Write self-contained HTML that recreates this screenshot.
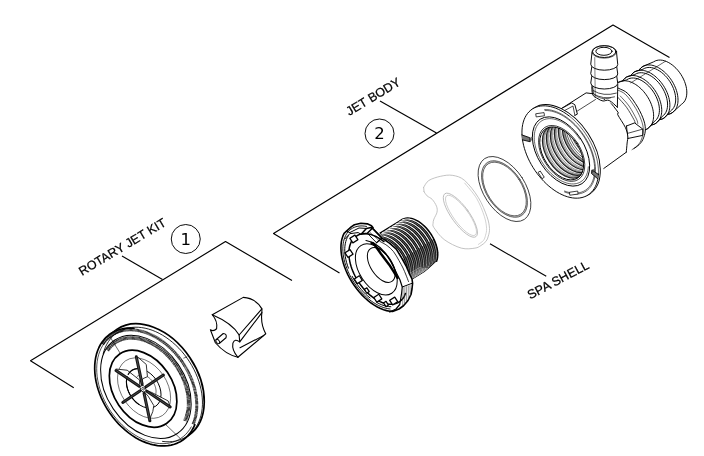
<!DOCTYPE html>
<html><head><meta charset="utf-8"><title>Jet exploded view</title>
<style>
html,body{margin:0;padding:0;background:#fff;}
svg{display:block;filter:grayscale(1)}
text{font-family:"Liberation Sans",sans-serif;fill:#000;stroke:#000;stroke-width:0.25;opacity:0.995}
.ln{stroke:#000;stroke-width:1.15;fill:none;stroke-linecap:butt}
</style></head><body>
<svg width="704" height="456" viewBox="0 0 704 456" stroke-linecap="round" stroke-linejoin="round">
<rect width="704" height="456" fill="#fff"/>
<g class="ln">
<polyline points="73.75,387.75 30.5,360.75 225.5,241.5 292,280.5"/>
<line x1="122" y1="256" x2="162.5" y2="279.5"/>
<polyline points="339.5,273 273.5,233.5 613,25 669.5,57.5"/>
<line x1="380" y1="101" x2="436.5" y2="133"/>
<line x1="490" y1="243.75" x2="546.25" y2="276.25"/>
<circle cx="185.75" cy="239" r="14.5" stroke-width="0.95"/>
<circle cx="379.5" cy="133.5" r="14.5" stroke-width="0.95"/>
</g>
<text transform="translate(82,276) rotate(-31)" font-size="12.5">ROTARY JET KIT</text>
<text transform="translate(349.3,115.9) rotate(-31)" font-size="12.5">JET BODY</text>
<text transform="translate(530.3,299.6) rotate(-28)" font-size="12.7">SPA SHELL</text>
<text x="185.75" y="244.6" font-size="16.5" text-anchor="middle" style="font-family:'DejaVu Sans',sans-serif;stroke:none">1</text>
<text x="379.5" y="138.8" font-size="16.5" text-anchor="middle" style="font-family:'DejaVu Sans',sans-serif;stroke:none">2</text>
<g id="wheel">
<ellipse cx="152.60" cy="382.50" rx="44.87" ry="64.10" transform="rotate(-34 152.60 382.50)" stroke="#000" stroke-width="1.7" fill="#fff" />
<ellipse cx="146.50" cy="387.00" rx="45.01" ry="64.30" transform="rotate(-34 146.50 387.00)" stroke="none" stroke-width="0" fill="#fff" />
<path d="M134.02,328.25 L130.50,328.05 L127.05,328.15 L123.71,328.54 L120.48,329.23 L117.38,330.20 L114.42,331.46 L111.63,333.00 L109.00,334.80 L106.57,336.87 L104.34,339.18 L102.31,341.74 L100.51,344.52 L98.94,347.51 L97.60,350.71 L96.51,354.08 L95.67,357.62 L95.09,361.30 L94.76,365.11 L94.69,369.04 L94.88,373.05 L95.32,377.13 L96.02,381.26 L96.98,385.42 L98.18,389.59 L99.62,393.74 L101.30,397.86 L103.21,401.93 L105.33,405.92 L107.65,409.82 L110.17,413.60 L112.87,417.25 L115.74,420.75 L118.77,424.08 L121.93,427.23 L125.22,430.17 L128.61,432.90 L132.09,435.40 L135.64,437.66 L139.25,439.66 L142.89,441.40 L146.55,442.87 L150.21,444.06 L153.86,444.96 L157.46,445.58 L161.01,445.90 L164.49,445.93 L167.88,445.66 L171.16,445.10 L174.32,444.25 L177.34,443.11 L180.21,441.69 L182.90,440.00 L185.42,438.04 L187.74,435.83 L189.85,433.38 L191.75,430.69 L193.42,427.79 L194.86,424.68" stroke="#000" stroke-width="1.7" fill="none"/>
<path d="M162.52,441.41 L165.93,441.74 L169.28,441.79 L172.54,441.56 L175.70,441.05 L178.74,440.27 L181.66,439.22 L184.43,437.90 L187.05,436.31 L189.49,434.48 L191.76,432.41 L193.83,430.10 L195.69,427.56 L197.35,424.82 L198.78,421.88 L199.99,418.76 L200.96,415.48 L201.69,412.04 L202.19,408.47 L202.44,404.78 L202.44,400.99 L202.20,397.12 L201.71,393.19 L200.99,389.22 L200.02,385.23 L198.82,381.23 L197.40,377.24 L195.75,373.30 L193.89,369.40 L191.82,365.59 L189.57,361.86 L187.13,358.24 L184.52,354.75 L181.75,351.41 L178.84,348.23 L175.80,345.22 L172.64,342.41 L169.38,339.80 L166.04,337.41 L162.63,335.24 L159.16,333.32 L155.67,331.65 L152.15,330.23 L148.64,329.08 L145.14,328.20 L141.68,327.59 L138.27,327.26 L134.92,327.21 L131.66,327.44 L128.50,327.95 L125.46,328.73 L122.54,329.78 L119.77,331.10 L117.15,332.69 L114.71,334.52 L112.44,336.59 L110.37,338.90 L108.51,341.44 L106.85,344.18 L105.42,347.12 L104.21,350.24 L103.24,353.52" stroke="#000" stroke-width="0.85" fill="none"/>
<path d="M122.40,331.25 L119.38,332.10 L116.49,333.23 L113.75,334.63 L111.18,336.29 L108.79,338.21 L106.58,340.37 L104.57,342.76 L102.78,345.38 L101.20,348.20 L99.85,351.22 L98.73,354.42 L97.85,357.78 L97.22,361.29 L96.83,364.92 L96.70,368.67 L96.81,372.51 L97.17,376.42 L97.78,380.38 L98.63,384.38 L99.72,388.39 L101.05,392.39 L102.60,396.37 L104.37,400.30 L106.36,404.16 L108.55,407.94 L110.92,411.61 L113.48,415.16 L116.20,418.57 L119.07,421.82 L122.08,424.89 L125.21,427.78 L128.45,430.46 L131.78,432.92 L135.18,435.15 L138.64,437.14 L142.14,438.88 L145.66,440.37 L149.18,441.58 L152.69,442.52 L156.18,443.18 L159.61,443.56 L162.97,443.65 L166.26,443.47 L169.44,443.00 L172.51,442.25 L175.45,441.22 L178.25,439.92 L180.88,438.35 L183.34,436.53 L185.62,434.46 L187.70,432.15 L189.58,429.62 L191.24,426.87" stroke="#000" stroke-width="0.7" fill="none"/>
<ellipse cx="145.89" cy="386.87" rx="39.34" ry="56.20" transform="rotate(-34 145.89 386.87)" stroke="#000" stroke-width="1.0" fill="none" />
<path d="M193.11,424.32 L194.32,421.19 L195.29,417.89 L196.03,414.43 L196.52,410.84 L196.76,407.14 L196.76,403.33 L196.50,399.44 L196.01,395.49 L195.26,391.50 L194.28,387.49 L193.06,383.48 L191.62,379.48 L189.95,375.52 L188.06,371.62 L185.97,367.79 L183.69,364.05 L181.22,360.43 L178.58,356.94 L175.79,353.60 L172.85,350.43 L169.78,347.43 L166.59,344.63 L163.31,342.04 L159.94,339.67 L156.51,337.53 L153.03,335.63 L149.51,333.99 L145.98,332.61 L142.46,331.50 L138.95,330.67 L135.48,330.11 L132.06,329.83 L128.72,329.83 L125.46,330.11 L122.31,330.68 L119.28,331.52 L116.38,332.63 L113.63,334.02 L111.04,335.66 L108.62,337.56 L106.40,339.70 L104.37,342.07 L102.54,344.67" stroke="#000" stroke-width="3.0" fill="none" stroke-dasharray="0.75 0.4" stroke-linecap="butt"/>
<path d="M184.89,420.85 L186.04,418.19 L186.99,415.37 L187.73,412.41 L188.26,409.33 L188.57,406.13 L188.66,402.84 L188.53,399.47 L188.18,396.04 L187.62,392.57 L186.84,389.07 L185.85,385.56 L184.66,382.06 L183.27,378.58 L181.69,375.15 L179.92,371.79 L177.98,368.49 L175.87,365.30 L173.61,362.22 L171.20,359.26 L168.67,356.44 L166.01,353.78 L163.25,351.29 L160.40,348.98 L157.48,346.86 L154.49,344.95 L151.45,343.25 L148.39,341.78 L145.30,340.53 L142.22,339.52 L139.15,338.75 L136.12,338.23 L133.13,337.95 L130.19,337.92 L127.34,338.14 L124.58,338.61 L121.92,339.33 L119.37,340.28 L116.96,341.48 L114.69,342.90 L112.57,344.55 L110.62,346.42 L108.85,348.49 L107.25,350.75" stroke="#000" stroke-width="3.6" fill="none" stroke-dasharray="0.75 0.4" stroke-linecap="butt"/>
<ellipse cx="143.10" cy="388.75" rx="29.33" ry="41.90" transform="rotate(-34 143.10 388.75)" stroke="#000" stroke-width="1.7" fill="none" />
<line x1="110.00" y1="336.75" x2="120.00" y2="353.00" stroke="#000" stroke-width="0.6"/>
<line x1="166.25" y1="425.10" x2="180.00" y2="438.25" stroke="#000" stroke-width="0.6"/>
<line x1="183.75" y1="358.10" x2="186.90" y2="356.90" stroke="#000" stroke-width="0.6"/>
<ellipse cx="144.09" cy="388.08" rx="23.10" ry="33.00" transform="rotate(-34 144.09 388.08)" stroke="#000" stroke-width="0.5" fill="none" />
</g>
<g id="hub">
<ellipse cx="143.76" cy="388.30" rx="15.05" ry="21.50" transform="rotate(-34 143.76 388.30)" stroke="#000" stroke-width="0.9" fill="none" />
<path d="M154.95,396.06 L155.26,395.43 L155.52,394.75 L155.73,394.04 L155.88,393.30 L155.99,392.53 L156.05,391.73 L156.05,390.91 L155.99,390.08 L155.89,389.23 L155.73,388.37 L155.52,387.51 L155.26,386.65 L154.96,385.78 L154.60,384.93 L154.20,384.09 L153.75,383.27 L153.27,382.46 L152.74,381.68 L152.17,380.93 L151.58,380.20 L150.95,379.52 L150.29,378.87 L149.61,378.26 L148.90,377.70 L148.18,377.18 L147.45,376.71 L146.70,376.30 L145.94,375.94 L145.18,375.63 L144.43,375.38 L143.67,375.19 L142.92,375.06 L142.19,374.99 L141.46,374.98 L140.76,375.03 L140.08,375.14 L139.42,375.31 L138.79,375.53 L138.19,375.82 L137.62,376.16 L137.10,376.56 L136.61,377.00 L136.16,377.50 L135.76,378.05 L135.40,378.64" stroke="#000" stroke-width="0.6" fill="none"/>
<path d="M138.24,357.52 L146.25,364.43 L147.45,376.68 L142.85,378.70 L141.47,382.39" stroke="#000" stroke-width="0.8" fill="#fff" />
<path d="M116.14,369.03 L127.19,370.23 L139.62,380.08 L139.62,384.23" stroke="#000" stroke-width="0.8" fill="#fff" />
<path d="M149.03,420.94 L152.79,411.54 L153.81,405.56 L148.17,396.15 L144.24,391.88" stroke="#000" stroke-width="0.8" fill="#fff" />
<path d="M170.39,407.26 L168.17,400.94 L151.59,392.39 L146.46,391.03" stroke="#000" stroke-width="0.8" fill="#fff" />
<path d="M137.29,368.62 L136.13,368.76 L135.01,369.00 L133.94,369.34 L132.92,369.79 L131.96,370.33 L131.06,370.98 L130.23,371.71 L129.48,372.53 L128.80,373.44 L128.20,374.43" stroke="#000" stroke-width="1.2" fill="none"/>
<path d="M126.76,378.53 L126.57,379.76 L126.46,381.04 L126.44,382.35 L126.51,383.69 L126.66,385.05 L126.90,386.43 L127.22,387.82 L127.62,389.22 L128.11,390.60 L128.67,391.98 L129.31,393.34 L130.02,394.67 L130.80,395.97 L131.64,397.23 L132.55,398.45 L133.51,399.62 L134.52,400.73 L135.57,401.78 L136.67,402.76 L137.81,403.67 L138.97,404.50" stroke="#000" stroke-width="1.1" fill="none"/>
<line x1="142.13" y1="384.18" x2="136.31" y2="356.77" stroke="#151515" stroke-width="3.0"/>
<line x1="141.94" y1="383.27" x2="136.50" y2="357.68" stroke="#5a5a5a" stroke-width="0.7"/>
<line x1="139.23" y1="386.14" x2="115.99" y2="370.47" stroke="#151515" stroke-width="3.0"/>
<line x1="138.45" y1="385.62" x2="116.77" y2="370.99" stroke="#5a5a5a" stroke-width="0.7"/>
<line x1="146.00" y1="386.79" x2="163.41" y2="375.05" stroke="#151515" stroke-width="3.0"/>
<line x1="146.58" y1="386.40" x2="162.83" y2="375.44" stroke="#5a5a5a" stroke-width="0.7"/>
<line x1="140.20" y1="390.71" x2="122.79" y2="402.45" stroke="#151515" stroke-width="3.0"/>
<line x1="139.62" y1="391.10" x2="123.37" y2="402.06" stroke="#5a5a5a" stroke-width="0.7"/>
<line x1="146.97" y1="391.36" x2="170.21" y2="407.03" stroke="#151515" stroke-width="3.0"/>
<line x1="147.75" y1="391.88" x2="169.43" y2="406.51" stroke="#5a5a5a" stroke-width="0.7"/>
<line x1="144.07" y1="393.32" x2="149.89" y2="420.73" stroke="#151515" stroke-width="3.0"/>
<line x1="144.26" y1="394.23" x2="149.70" y2="419.82" stroke="#5a5a5a" stroke-width="0.7"/>
<ellipse cx="143.10" cy="388.75" rx="2.52" ry="3.60" transform="rotate(-34 143.10 388.75)" stroke="#000" stroke-width="0.8" fill="#fff" />
<ellipse cx="143.10" cy="388.75" rx="1.05" ry="1.50" transform="rotate(-34 143.10 388.75)" stroke="#000" stroke-width="0.6" fill="#fff" />
</g>
<g id="nozzle" fill="none" stroke="#000" stroke-width="1.1">
<path d="M212.25,314.75 L243.25,297.38 Q256.00,298.25 261.88,308.88 L239.12,335.00 Q232.25,323.25 212.25,314.75 Z" fill="#fff"/>
<path d="M261.88,312.62 L239.75,341.88 L239.12,335.00"/>
<path d="M261.88,308.88 L261.88,312.62 Q260.38,323.75 265.75,333.75 L237.88,357.25"/>
<path d="M263.50,335.62 L240.00,347.75"/>
<path d="M239.75,341.88 Q234.75,338.12 232.88,343.12 Q231.62,350.00 237.88,357.25"/>
<path d="M237.88,357.25 Q225.38,354.38 215.38,342.75 L210.38,329.75 Q213.50,331.88 216.62,328.75 Q217.88,321.25 212.25,314.75"/>
<path d="M216.00,339.75 L223.25,333.50 Q227.25,333.75 226.00,337.75 L219.50,343.25" stroke-width="1.05"/>
<ellipse cx="217.75" cy="341.50" rx="1.5" ry="2.4" transform="rotate(-40 217.75 341.50)" stroke-width="0.95"/>
</g>
<g id="front">
<clipPath id="cthr"><path d="M380.00,232.90 L398.75,221.60 L402.50,219.10 L402.54,219.32 L404.13,218.59 L405.85,218.14 L407.71,217.96 L409.67,218.05 L411.71,218.42 L413.81,219.06 L415.95,219.96 L418.11,221.11 L420.26,222.51 L422.37,224.13 L424.43,225.96 L426.41,227.98 L428.30,230.16 L430.06,232.49 L431.68,234.93 L433.14,237.46 L434.43,240.05 L435.54,242.68 L436.44,245.31 L437.13,247.91 L437.61,250.47 L437.86,252.94 L437.89,255.31 L437.69,257.54 L437.27,259.61 L436.63,261.50 L437.90,252.00 L437.80,255.90 L436.20,260.70 L427.80,268.60 L423.80,271.80 L411.25,279.40 L406.90,275.00 L401.25,262.50 L395.00,252.50 L392.50,248.50 L386.25,239.75 Z"/></clipPath>
<path d="M380.00,232.90 L398.75,221.60 L402.50,219.10 L402.54,219.32 L404.13,218.59 L405.85,218.14 L407.71,217.96 L409.67,218.05 L411.71,218.42 L413.81,219.06 L415.95,219.96 L418.11,221.11 L420.26,222.51 L422.37,224.13 L424.43,225.96 L426.41,227.98 L428.30,230.16 L430.06,232.49 L431.68,234.93 L433.14,237.46 L434.43,240.05 L435.54,242.68 L436.44,245.31 L437.13,247.91 L437.61,250.47 L437.86,252.94 L437.89,255.31 L437.69,257.54 L437.27,259.61 L436.63,261.50 L437.90,252.00 L437.80,255.90 L436.20,260.70 L427.80,268.60 L423.80,271.80 L411.25,279.40 L406.90,275.00 L401.25,262.50 L395.00,252.50 L392.50,248.50 L386.25,239.75 Z" fill="#0a0a0a" stroke="#000" stroke-width="1.2"/>
<g clip-path="url(#cthr)">
<path d="M432.33,239.08 L431.42,237.38 L430.43,235.72 L429.38,234.10 L428.26,232.53 L427.09,231.01 L425.86,229.55 L424.58,228.16 L423.27,226.85 L421.92,225.62 L420.54,224.48 L419.14,223.44 L417.72,222.49 L416.30,221.65 L414.88,220.91 L413.46,220.29 L412.06,219.78 L410.68,219.39 L409.32,219.12 L408.00,218.96 L406.72,218.93 L405.49,219.02 L404.30,219.23 L403.18,219.56 L402.12,220.01" stroke="#fff" stroke-width="1.05" fill="none"/>
<path d="M435.07,262.59 L435.57,261.41 L435.97,260.14 L436.27,258.79 L436.47,257.37 L436.58,255.88 L436.58,254.34 L436.49,252.74 L436.30,251.10 L436.01,249.42 L435.62,247.72 L435.14,245.99 L434.57,244.26 L433.91,242.52 L433.16,240.79 L432.33,239.08" stroke="#f0f0f0" stroke-width="0.6" fill="none"/>
<path d="M418.96,267.33 L420.36,267.83 L421.74,268.23 L423.10,268.50 L424.42,268.65 L425.70,268.68 L426.93,268.59 L428.12,268.38 L429.24,268.05 L430.30,267.60 L431.30,267.04 L432.22,266.36 L433.06,265.57 L433.82,264.68 L434.49,263.69 L435.07,262.59" stroke="#ddd" stroke-width="0.4" fill="none"/>
<path d="M417.32,268.39 L418.72,268.90 L420.11,269.29 L421.46,269.56 L422.78,269.71 L424.06,269.74 L425.30,269.65 L426.48,269.44 L427.61,269.11 L428.67,268.67 L429.66,268.10 L430.58,267.42 L431.42,266.64 L432.18,265.74 L432.85,264.75 L433.44,263.66 L433.93,262.47 L434.33,261.20 L434.63,259.85 L434.84,258.43 L434.94,256.94 L434.95,255.40 L434.85,253.80 L434.66,252.16 L434.37,250.48 L433.99,248.78 L433.51,247.05 L432.93,245.32 L432.27,243.58 L431.52,241.85 L430.69,240.14 L429.78,238.45 L428.80,236.79 L427.75,235.16 L426.63,233.59 L425.45,232.07 L424.22,230.61 L422.95,229.23 L421.63,227.91 L420.28,226.69 L418.90,225.55 L417.50,224.50 L416.09,223.55 L414.67,222.71 L413.24,221.98 L411.83,221.35 L410.43,220.84 L409.04,220.45 L407.69,220.18 L406.37,220.03 L405.09,220.00 L403.85,220.09 L402.67,220.30 L401.54,220.63 L400.48,221.07" stroke="#e8e8e8" stroke-width="0.42" fill="none"/>
<path d="M429.06,241.20 L428.15,239.51 L427.16,237.85 L426.11,236.23 L424.99,234.65 L423.82,233.13 L422.59,231.68 L421.31,230.29 L420.00,228.98 L418.64,227.75 L417.27,226.61 L415.87,225.56 L414.45,224.62 L413.03,223.77 L411.61,223.04 L410.19,222.41 L408.79,221.91 L407.41,221.51 L406.05,221.24 L404.73,221.09 L403.45,221.06 L402.21,221.15 L401.03,221.36 L399.91,221.69 L398.85,222.14" stroke="#fff" stroke-width="1.05" fill="none"/>
<path d="M431.80,264.72 L432.30,263.53 L432.69,262.27 L433.00,260.92 L433.20,259.49 L433.31,258.01 L433.31,256.46 L433.22,254.86 L433.03,253.22 L432.74,251.54 L432.35,249.84 L431.87,248.12 L431.30,246.38 L430.64,244.65 L429.89,242.92 L429.06,241.20" stroke="#f0f0f0" stroke-width="0.6" fill="none"/>
<path d="M415.69,269.45 L417.09,269.96 L418.47,270.35 L419.82,270.62 L421.15,270.78 L422.43,270.81 L423.66,270.72 L424.85,270.51 L425.97,270.18 L427.03,269.73 L428.03,269.16 L428.94,268.49 L429.79,267.70 L430.55,266.81 L431.22,265.81 L431.80,264.72" stroke="#ddd" stroke-width="0.4" fill="none"/>
<path d="M414.05,270.51 L415.45,271.02 L416.83,271.41 L418.19,271.68 L419.51,271.84 L420.79,271.87 L422.03,271.78 L423.21,271.57 L424.34,271.24 L425.40,270.79 L426.39,270.23 L427.31,269.55 L428.15,268.76 L428.91,267.87 L429.58,266.87 L430.17,265.78 L430.66,264.60 L431.06,263.33 L431.36,261.98 L431.57,260.56 L431.67,259.07 L431.68,257.52 L431.58,255.92 L431.39,254.28 L431.10,252.61 L430.72,250.90 L430.24,249.18 L429.66,247.44 L429.00,245.71 L428.25,243.98 L427.42,242.26 L426.51,240.57 L425.53,238.91 L424.48,237.29 L423.36,235.71 L422.18,234.19 L420.95,232.74 L419.68,231.35 L418.36,230.04 L417.01,228.81 L415.63,227.67 L414.23,226.62 L412.82,225.68 L411.39,224.83 L409.97,224.10 L408.56,223.48 L407.15,222.97 L405.77,222.58 L404.42,222.30 L403.10,222.15 L401.81,222.12 L400.58,222.21 L399.40,222.42 L398.27,222.75 L397.21,223.20" stroke="#e8e8e8" stroke-width="0.42" fill="none"/>
<path d="M425.79,243.32 L424.88,241.63 L423.89,239.97 L422.84,238.35 L421.72,236.78 L420.55,235.26 L419.32,233.80 L418.04,232.41 L416.72,231.10 L415.37,229.87 L413.99,228.73 L412.59,227.69 L411.18,226.74 L409.76,225.90 L408.34,225.16 L406.92,224.54 L405.52,224.03 L404.14,223.64 L402.78,223.37 L401.46,223.21 L400.18,223.18 L398.94,223.27 L397.76,223.48 L396.64,223.81 L395.57,224.26" stroke="#fff" stroke-width="1.05" fill="none"/>
<path d="M428.53,266.84 L429.03,265.66 L429.42,264.39 L429.73,263.04 L429.93,261.62 L430.04,260.13 L430.04,258.58 L429.95,256.99 L429.76,255.34 L429.47,253.67 L429.08,251.96 L428.60,250.24 L428.03,248.51 L427.37,246.77 L426.62,245.04 L425.79,243.32" stroke="#f0f0f0" stroke-width="0.6" fill="none"/>
<path d="M412.41,271.57 L413.82,272.08 L415.20,272.47 L416.55,272.75 L417.88,272.90 L419.16,272.93 L420.39,272.84 L421.58,272.63 L422.70,272.30 L423.76,271.85 L424.75,271.29 L425.67,270.61 L426.52,269.82 L427.27,268.93 L427.95,267.93 L428.53,266.84" stroke="#ddd" stroke-width="0.4" fill="none"/>
<path d="M410.78,272.64 L412.18,273.14 L413.56,273.54 L414.92,273.81 L416.24,273.96 L417.52,273.99 L418.76,273.90 L419.94,273.69 L421.06,273.36 L422.13,272.91 L423.12,272.35 L424.04,271.67 L424.88,270.88 L425.64,269.99 L426.31,269.00 L426.90,267.90 L427.39,266.72 L427.79,265.45 L428.09,264.10 L428.29,262.68 L428.40,261.19 L428.41,259.65 L428.31,258.05 L428.12,256.41 L427.83,254.73 L427.45,253.03 L426.97,251.30 L426.39,249.57 L425.73,247.83 L424.98,246.10 L424.15,244.39 L423.24,242.69 L422.26,241.03 L421.20,239.41 L420.09,237.84 L418.91,236.32 L417.68,234.86 L416.41,233.47 L415.09,232.16 L413.74,230.93 L412.36,229.79 L410.96,228.75 L409.55,227.80 L408.12,226.96 L406.70,226.22 L405.29,225.60 L403.88,225.09 L402.50,224.70 L401.15,224.43 L399.83,224.28 L398.54,224.24 L397.31,224.33 L396.13,224.54 L395.00,224.87 L393.94,225.32" stroke="#e8e8e8" stroke-width="0.42" fill="none"/>
<path d="M422.52,245.45 L421.61,243.76 L420.62,242.10 L419.57,240.47 L418.45,238.90 L417.28,237.38 L416.05,235.92 L414.77,234.54 L413.45,233.22 L412.10,232.00 L410.72,230.86 L409.32,229.81 L407.91,228.86 L406.49,228.02 L405.07,227.29 L403.65,226.66 L402.25,226.15 L400.87,225.76 L399.51,225.49 L398.19,225.34 L396.91,225.31 L395.67,225.40 L394.49,225.61 L393.37,225.94 L392.30,226.38" stroke="#fff" stroke-width="1.05" fill="none"/>
<path d="M425.26,268.97 L425.75,267.78 L426.15,266.51 L426.45,265.16 L426.66,263.74 L426.76,262.25 L426.77,260.71 L426.68,259.11 L426.49,257.47 L426.20,255.79 L425.81,254.09 L425.33,252.36 L424.76,250.63 L424.09,248.89 L423.35,247.16 L422.52,245.45" stroke="#f0f0f0" stroke-width="0.6" fill="none"/>
<path d="M409.14,273.70 L410.55,274.21 L411.93,274.60 L413.28,274.87 L414.60,275.02 L415.89,275.05 L417.12,274.97 L418.30,274.75 L419.43,274.42 L420.49,273.98 L421.48,273.41 L422.40,272.73 L423.24,271.95 L424.00,271.05 L424.68,270.06 L425.26,268.97" stroke="#ddd" stroke-width="0.4" fill="none"/>
<path d="M407.51,274.76 L408.91,275.27 L410.29,275.66 L411.65,275.93 L412.97,276.09 L414.25,276.12 L415.49,276.03 L416.67,275.82 L417.79,275.49 L418.86,275.04 L419.85,274.47 L420.77,273.80 L421.61,273.01 L422.37,272.12 L423.04,271.12 L423.63,270.03 L424.12,268.84 L424.52,267.58 L424.82,266.23 L425.02,264.80 L425.13,263.32 L425.14,261.77 L425.04,260.17 L424.85,258.53 L424.56,256.85 L424.18,255.15 L423.69,253.43 L423.12,251.69 L422.46,249.96 L421.71,248.23 L420.88,246.51 L419.97,244.82 L418.99,243.16 L417.93,241.54 L416.82,239.96 L415.64,238.44 L414.41,236.99 L413.14,235.60 L411.82,234.29 L410.47,233.06 L409.09,231.92 L407.69,230.87 L406.27,229.93 L404.85,229.08 L403.43,228.35 L402.02,227.72 L400.61,227.22 L399.23,226.82 L397.88,226.55 L396.55,226.40 L395.27,226.37 L394.04,226.46 L392.85,226.67 L391.73,227.00 L390.67,227.45" stroke="#e8e8e8" stroke-width="0.42" fill="none"/>
<path d="M419.24,247.57 L418.33,245.88 L417.35,244.22 L416.30,242.60 L415.18,241.02 L414.00,239.50 L412.78,238.05 L411.50,236.66 L410.18,235.35 L408.83,234.12 L407.45,232.98 L406.05,231.93 L404.64,230.99 L403.22,230.14 L401.80,229.41 L400.38,228.79 L398.98,228.28 L397.60,227.89 L396.24,227.61 L394.92,227.46 L393.64,227.43 L392.40,227.52 L391.22,227.73 L390.09,228.06 L389.03,228.51" stroke="#fff" stroke-width="1.05" fill="none"/>
<path d="M421.99,271.09 L422.48,269.91 L422.88,268.64 L423.18,267.29 L423.39,265.87 L423.49,264.38 L423.50,262.83 L423.41,261.23 L423.22,259.59 L422.93,257.92 L422.54,256.21 L422.06,254.49 L421.49,252.75 L420.82,251.02 L420.08,249.29 L419.24,247.57" stroke="#f0f0f0" stroke-width="0.6" fill="none"/>
<path d="M405.87,275.82 L407.28,276.33 L408.66,276.72 L410.01,277.00 L411.33,277.15 L412.62,277.18 L413.85,277.09 L415.03,276.88 L416.16,276.55 L417.22,276.10 L418.21,275.54 L419.13,274.86 L419.97,274.07 L420.73,273.18 L421.41,272.18 L421.99,271.09" stroke="#ddd" stroke-width="0.4" fill="none"/>
<path d="M404.24,276.88 L405.64,277.39 L407.02,277.78 L408.38,278.06 L409.70,278.21 L410.98,278.24 L412.22,278.15 L413.40,277.94 L414.52,277.61 L415.58,277.16 L416.58,276.60 L417.50,275.92 L418.34,275.13 L419.10,274.24 L419.77,273.24 L420.36,272.15 L420.85,270.97 L421.25,269.70 L421.55,268.35 L421.75,266.93 L421.86,265.44 L421.86,263.89 L421.77,262.30 L421.58,260.65 L421.29,258.98 L420.90,257.27 L420.42,255.55 L419.85,253.82 L419.19,252.08 L418.44,250.35 L417.61,248.63 L416.70,246.94 L415.72,245.28 L414.66,243.66 L413.55,242.09 L412.37,240.57 L411.14,239.11 L409.86,237.72 L408.55,236.41 L407.20,235.18 L405.82,234.04 L404.42,233.00 L403.00,232.05 L401.58,231.21 L400.16,230.47 L398.74,229.85 L397.34,229.34 L395.96,228.95 L394.61,228.68 L393.28,228.52 L392.00,228.49 L390.77,228.58 L389.58,228.79 L388.46,229.12 L387.40,229.57" stroke="#e8e8e8" stroke-width="0.42" fill="none"/>
<path d="M415.97,249.70 L415.06,248.00 L414.08,246.34 L413.03,244.72 L411.91,243.15 L410.73,241.63 L409.51,240.17 L408.23,238.78 L406.91,237.47 L405.56,236.24 L404.18,235.10 L402.78,234.06 L401.37,233.11 L399.95,232.27 L398.52,231.53 L397.11,230.91 L395.71,230.40 L394.32,230.01 L392.97,229.74 L391.65,229.59 L390.37,229.55 L389.13,229.64 L387.95,229.85 L386.82,230.18 L385.76,230.63" stroke="#fff" stroke-width="1.05" fill="none"/>
<path d="M418.72,273.21 L419.21,272.03 L419.61,270.76 L419.91,269.41 L420.12,267.99 L420.22,266.50 L420.23,264.96 L420.14,263.36 L419.94,261.72 L419.66,260.04 L419.27,258.34 L418.79,256.61 L418.22,254.88 L417.55,253.14 L416.80,251.41 L415.97,249.70" stroke="#f0f0f0" stroke-width="0.6" fill="none"/>
<path d="M402.60,277.95 L404.00,278.45 L405.39,278.85 L406.74,279.12 L408.06,279.27 L409.34,279.30 L410.58,279.21 L411.76,279.00 L412.89,278.67 L413.95,278.22 L414.94,277.66 L415.86,276.98 L416.70,276.19 L417.46,275.30 L418.14,274.31 L418.72,273.21" stroke="#ddd" stroke-width="0.4" fill="none"/>
<path d="M400.97,279.01 L402.37,279.52 L403.75,279.91 L405.11,280.18 L406.43,280.33 L407.71,280.37 L408.94,280.28 L410.13,280.06 L411.25,279.73 L412.31,279.29 L413.31,278.72 L414.23,278.04 L415.07,277.26 L415.83,276.36 L416.50,275.37 L417.08,274.28 L417.58,273.09 L417.98,271.82 L418.28,270.47 L418.48,269.05 L418.59,267.57 L418.59,266.02 L418.50,264.42 L418.31,262.78 L418.02,261.10 L417.63,259.40 L417.15,257.67 L416.58,255.94 L415.92,254.20 L415.17,252.47 L414.34,250.76 L413.43,249.07 L412.44,247.41 L411.39,245.78 L410.27,244.21 L409.10,242.69 L407.87,241.23 L406.59,239.85 L405.28,238.54 L403.93,237.31 L402.55,236.17 L401.15,235.12 L399.73,234.17 L398.31,233.33 L396.89,232.60 L395.47,231.97 L394.07,231.46 L392.69,231.07 L391.33,230.80 L390.01,230.65 L388.73,230.62 L387.50,230.71 L386.31,230.92 L385.19,231.25 L384.13,231.70" stroke="#e8e8e8" stroke-width="0.42" fill="none"/>
<path d="M412.70,251.82 L411.79,250.13 L410.81,248.47 L409.76,246.85 L408.64,245.27 L407.46,243.75 L406.23,242.30 L404.96,240.91 L403.64,239.60 L402.29,238.37 L400.91,237.23 L399.51,236.18 L398.10,235.24 L396.68,234.39 L395.25,233.66 L393.84,233.03 L392.44,232.53 L391.05,232.13 L389.70,231.86 L388.38,231.71 L387.10,231.68 L385.86,231.77 L384.68,231.98 L383.55,232.31 L382.49,232.76" stroke="#fff" stroke-width="1.05" fill="none"/>
<path d="M415.45,275.34 L415.94,274.15 L416.34,272.89 L416.64,271.54 L416.85,270.12 L416.95,268.63 L416.96,267.08 L416.87,265.48 L416.67,263.84 L416.38,262.16 L416.00,260.46 L415.52,258.74 L414.94,257.00 L414.28,255.27 L413.53,253.54 L412.70,251.82" stroke="#f0f0f0" stroke-width="0.6" fill="none"/>
<path d="M399.33,280.07 L400.73,280.58 L402.12,280.97 L403.47,281.24 L404.79,281.40 L406.07,281.43 L407.31,281.34 L408.49,281.13 L409.62,280.80 L410.68,280.35 L411.67,279.78 L412.59,279.11 L413.43,278.32 L414.19,277.43 L414.86,276.43 L415.45,275.34" stroke="#ddd" stroke-width="0.4" fill="none"/>
<path d="M397.70,281.13 L399.10,281.64 L400.48,282.03 L401.84,282.31 L403.16,282.46 L404.44,282.49 L405.67,282.40 L406.86,282.19 L407.98,281.86 L409.04,281.41 L410.04,280.85 L410.96,280.17 L411.80,279.38 L412.56,278.49 L413.23,277.49 L413.81,276.40 L414.31,275.22 L414.70,273.95 L415.01,272.60 L415.21,271.18 L415.32,269.69 L415.32,268.14 L415.23,266.54 L415.04,264.90 L414.75,263.23 L414.36,261.52 L413.88,259.80 L413.31,258.06 L412.65,256.33 L411.90,254.60 L411.07,252.88 L410.16,251.19 L409.17,249.53 L408.12,247.91 L407.00,246.33 L405.83,244.81 L404.60,243.36 L403.32,241.97 L402.01,240.66 L400.66,239.43 L399.28,238.29 L397.88,237.24 L396.46,236.30 L395.04,235.46 L393.62,234.72 L392.20,234.10 L390.80,233.59 L389.42,233.20 L388.06,232.92 L386.74,232.77 L385.46,232.74 L384.23,232.83 L383.04,233.04 L381.92,233.37 L380.86,233.82" stroke="#e8e8e8" stroke-width="0.42" fill="none"/>
<path d="M409.43,253.94 L408.52,252.25 L407.54,250.59 L406.49,248.97 L405.37,247.40 L404.19,245.88 L402.96,244.42 L401.69,243.03 L400.37,241.72 L399.02,240.49 L397.64,239.35 L396.24,238.31 L394.83,237.36 L393.41,236.52 L391.98,235.78 L390.57,235.16 L389.17,234.65 L387.78,234.26 L386.43,233.99 L385.11,233.83 L383.83,233.80 L382.59,233.89 L381.41,234.10 L380.28,234.43 L379.22,234.88" stroke="#fff" stroke-width="1.05" fill="none"/>
<path d="M412.18,277.46 L412.67,276.28 L413.07,275.01 L413.37,273.66 L413.58,272.24 L413.68,270.75 L413.69,269.20 L413.59,267.61 L413.40,265.97 L413.11,264.29 L412.73,262.58 L412.25,260.86 L411.67,259.13 L411.01,257.39 L410.26,255.66 L409.43,253.94" stroke="#f0f0f0" stroke-width="0.6" fill="none"/>
<path d="M396.06,282.19 L397.46,282.70 L398.84,283.09 L400.20,283.37 L401.52,283.52 L402.80,283.55 L404.04,283.46 L405.22,283.25 L406.35,282.92 L407.41,282.47 L408.40,281.91 L409.32,281.23 L410.16,280.44 L410.92,279.55 L411.59,278.55 L412.18,277.46" stroke="#ddd" stroke-width="0.4" fill="none"/>
<path d="M394.43,283.26 L395.83,283.77 L397.21,284.16 L398.56,284.43 L399.89,284.58 L401.17,284.61 L402.40,284.52 L403.59,284.31 L404.71,283.98 L405.77,283.53 L406.77,282.97 L407.68,282.29 L408.53,281.51 L409.29,280.61 L409.96,279.62 L410.54,278.52 L411.04,277.34 L411.43,276.07 L411.74,274.72 L411.94,273.30 L412.05,271.81 L412.05,270.27 L411.96,268.67 L411.77,267.03 L411.48,265.35 L411.09,263.65 L410.61,261.92 L410.04,260.19 L409.38,258.45 L408.63,256.72 L407.80,255.01 L406.89,253.31 L405.90,251.65 L404.85,250.03 L403.73,248.46 L402.56,246.94 L401.33,245.48 L400.05,244.09 L398.74,242.78 L397.38,241.55 L396.01,240.41 L394.61,239.37 L393.19,238.42 L391.77,237.58 L390.35,236.84 L388.93,236.22 L387.53,235.71 L386.15,235.32 L384.79,235.05 L383.47,234.90 L382.19,234.86 L380.95,234.95 L379.77,235.16 L378.65,235.49 L377.58,235.94" stroke="#e8e8e8" stroke-width="0.42" fill="none"/>
<path d="M406.16,256.07 L405.25,254.38 L404.27,252.72 L403.21,251.09 L402.10,249.52 L400.92,248.00 L399.69,246.54 L398.42,245.16 L397.10,243.85 L395.75,242.62 L394.37,241.48 L392.97,240.43 L391.56,239.48 L390.13,238.64 L388.71,237.91 L387.30,237.28 L385.89,236.77 L384.51,236.38 L383.16,236.11 L381.84,235.96 L380.55,235.93 L379.32,236.02 L378.14,236.23 L377.01,236.56 L375.95,237.01" stroke="#fff" stroke-width="1.05" fill="none"/>
<path d="M408.91,279.59 L409.40,278.40 L409.80,277.13 L410.10,275.79 L410.30,274.36 L410.41,272.88 L410.42,271.33 L410.32,269.73 L410.13,268.09 L409.84,266.41 L409.46,264.71 L408.98,262.98 L408.40,261.25 L407.74,259.51 L406.99,257.78 L406.16,256.07" stroke="#f0f0f0" stroke-width="0.6" fill="none"/>
<path d="M392.79,284.32 L394.19,284.83 L395.57,285.22 L396.93,285.49 L398.25,285.64 L399.53,285.68 L400.77,285.59 L401.95,285.37 L403.08,285.04 L404.14,284.60 L405.13,284.03 L406.05,283.35 L406.89,282.57 L407.65,281.67 L408.32,280.68 L408.91,279.59" stroke="#ddd" stroke-width="0.4" fill="none"/>
<path d="M391.15,285.38 L392.56,285.89 L393.94,286.28 L395.29,286.55 L396.62,286.71 L397.90,286.74 L399.13,286.65 L400.31,286.44 L401.44,286.11 L402.50,285.66 L403.49,285.09 L404.41,284.42 L405.26,283.63 L406.01,282.74 L406.69,281.74 L407.27,280.65 L407.76,279.47 L408.16,278.20 L408.47,276.85 L408.67,275.43 L408.78,273.94 L408.78,272.39 L408.69,270.79 L408.50,269.15 L408.21,267.47 L407.82,265.77 L407.34,264.05 L406.77,262.31 L406.11,260.58 L405.36,258.85 L404.53,257.13 L403.62,255.44 L402.63,253.78 L401.58,252.16 L400.46,250.58 L399.29,249.06 L398.06,247.61 L396.78,246.22 L395.46,244.91 L394.11,243.68 L392.73,242.54 L391.33,241.49 L389.92,240.55 L388.50,239.70 L387.08,238.97 L385.66,238.35 L384.26,237.84 L382.88,237.44 L381.52,237.17 L380.20,237.02 L378.92,236.99 L377.68,237.08 L376.50,237.29 L375.38,237.62 L374.31,238.07" stroke="#e8e8e8" stroke-width="0.42" fill="none"/>
<path d="M402.89,258.19 L401.98,256.50 L401.00,254.84 L399.94,253.22 L398.83,251.64 L397.65,250.13 L396.42,248.67 L395.15,247.28 L393.83,245.97 L392.48,244.74 L391.10,243.60 L389.70,242.55 L388.28,241.61 L386.86,240.77 L385.44,240.03 L384.03,239.41 L382.62,238.90 L381.24,238.51 L379.89,238.23 L378.57,238.08 L377.28,238.05 L376.05,238.14 L374.87,238.35 L373.74,238.68 L372.68,239.13" stroke="#fff" stroke-width="1.05" fill="none"/>
<path d="M405.64,281.71 L406.13,280.53 L406.53,279.26 L406.83,277.91 L407.03,276.49 L407.14,275.00 L407.15,273.45 L407.05,271.85 L406.86,270.21 L406.57,268.54 L406.19,266.83 L405.71,265.11 L405.13,263.37 L404.47,261.64 L403.72,259.91 L402.89,258.19" stroke="#f0f0f0" stroke-width="0.6" fill="none"/>
<path d="M389.52,286.44 L390.92,286.95 L392.30,287.34 L393.66,287.62 L394.98,287.77 L396.26,287.80 L397.50,287.71 L398.68,287.50 L399.80,287.17 L400.87,286.72 L401.86,286.16 L402.78,285.48 L403.62,284.69 L404.38,283.80 L405.05,282.80 L405.64,281.71" stroke="#ddd" stroke-width="0.4" fill="none"/>
<path d="M387.88,287.50 L389.29,288.01 L390.67,288.40 L392.02,288.68 L393.34,288.83 L394.63,288.86 L395.86,288.77 L397.04,288.56 L398.17,288.23 L399.23,287.78 L400.22,287.22 L401.14,286.54 L401.98,285.75 L402.74,284.86 L403.42,283.86 L404.00,282.77 L404.49,281.59 L404.89,280.32 L405.19,278.97 L405.40,277.55 L405.50,276.06 L405.51,274.51 L405.42,272.92 L405.23,271.28 L404.94,269.60 L404.55,267.89 L404.07,266.17 L403.50,264.44 L402.83,262.70 L402.09,260.97 L401.25,259.26 L400.35,257.56 L399.36,255.90 L398.31,254.28 L397.19,252.71 L396.02,251.19 L394.79,249.73 L393.51,248.34 L392.19,247.03 L390.84,245.80 L389.46,244.66 L388.06,243.62 L386.65,242.67 L385.23,241.83 L383.81,241.09 L382.39,240.47 L380.99,239.96 L379.61,239.57 L378.25,239.30 L376.93,239.14 L375.65,239.11 L374.41,239.20 L373.23,239.41 L372.10,239.74 L371.04,240.19" stroke="#e8e8e8" stroke-width="0.42" fill="none"/>
<path d="M399.62,260.32 L398.71,258.62 L397.73,256.96 L396.67,255.34 L395.56,253.77 L394.38,252.25 L393.15,250.79 L391.88,249.40 L390.56,248.09 L389.21,246.86 L387.83,245.72 L386.43,244.68 L385.01,243.73 L383.59,242.89 L382.17,242.15 L380.75,241.53 L379.35,241.02 L377.97,240.63 L376.62,240.36 L375.29,240.21 L374.01,240.17 L372.78,240.26 L371.59,240.47 L370.47,240.81 L369.41,241.25" stroke="#fff" stroke-width="1.05" fill="none"/>
<path d="M402.37,283.83 L402.86,282.65 L403.26,281.38 L403.56,280.03 L403.76,278.61 L403.87,277.12 L403.88,275.58 L403.78,273.98 L403.59,272.34 L403.30,270.66 L402.91,268.96 L402.43,267.23 L401.86,265.50 L401.20,263.76 L400.45,262.03 L399.62,260.32" stroke="#f0f0f0" stroke-width="0.6" fill="none"/>
<path d="M386.25,288.57 L387.65,289.08 L389.03,289.47 L390.39,289.74 L391.71,289.89 L392.99,289.92 L394.23,289.83 L395.41,289.62 L396.53,289.29 L397.60,288.84 L398.59,288.28 L399.51,287.60 L400.35,286.82 L401.11,285.92 L401.78,284.93 L402.37,283.83" stroke="#ddd" stroke-width="0.4" fill="none"/>
<path d="M384.61,289.63 L386.01,290.14 L387.40,290.53 L388.75,290.80 L390.07,290.95 L391.35,290.99 L392.59,290.90 L393.77,290.69 L394.90,290.35 L395.96,289.91 L396.95,289.34 L397.87,288.66 L398.71,287.88 L399.47,286.98 L400.15,285.99 L400.73,284.90 L401.22,283.71 L401.62,282.44 L401.92,281.10 L402.13,279.67 L402.23,278.19 L402.24,276.64 L402.15,275.04 L401.96,273.40 L401.67,271.72 L401.28,270.02 L400.80,268.29 L400.23,266.56 L399.56,264.82 L398.82,263.09 L397.98,261.38 L397.07,259.69 L396.09,258.03 L395.04,256.40 L393.92,254.83 L392.74,253.31 L391.52,251.85 L390.24,250.47 L388.92,249.16 L387.57,247.93 L386.19,246.79 L384.79,245.74 L383.38,244.79 L381.96,243.95 L380.54,243.22 L379.12,242.59 L377.72,242.08 L376.34,241.69 L374.98,241.42 L373.66,241.27 L372.38,241.24 L371.14,241.33 L369.96,241.54 L368.83,241.87 L367.77,242.32" stroke="#e8e8e8" stroke-width="0.42" fill="none"/>
</g>
<path d="M392.53,311.41 L389.65,311.17 L386.66,310.61 L383.61,309.71 L380.50,308.49 L377.37,306.96 L374.23,305.13 L371.11,303.01 L368.04,300.63 L365.03,297.99 L362.12,295.12 L359.31,292.04 L356.65,288.77 L354.13,285.34 L351.79,281.77 L349.64,278.10 L347.69,274.34 L345.97,270.54 L344.49,266.71 L343.25,262.88 L342.27,259.09 L341.55,255.37 L341.10,251.74 L340.92,248.22 L341.02,244.86 L341.39,241.66 L342.03,238.67 L342.93,235.89 L344.09,233.35 L351.19,226.87 L354.42,224.75 L360.86,223.18 L367.31,223.83 L371.45,225.67 L372.83,227.51 L372.83,228.43 L382.04,238.10 L389.80,243.30 L396.30,249.20 L401.90,258.30 L406.00,265.80 L409.00,272.80 L412.00,279.00 L412.60,283.25 L412.00,289.00 L411.00,294.50 L408.00,300.50 L403.50,305.75 L399.00,309.00 Z" stroke="#000" stroke-width="1.6" fill="#fff" />
<path d="M349.81,232.57 L359.02,227.97 L366.39,228.43" stroke="#000" stroke-width="1.0" fill="none" />
<path d="M346.31,231.19 L349.81,232.57" stroke="#000" stroke-width="1.0" fill="none" />
<path d="M366.39,228.43 L372.37,227.23 L372.83,227.79 L367.31,233.22 L361.32,234.05 Z" stroke="#000" stroke-width="1.5" fill="#fff" />
<path d="M344.75,239.02 L349.81,233.68 L358.10,232.57 L360.68,234.05" stroke="#000" stroke-width="1.0" fill="none" />
<path d="M372.83,228.89 L382.04,238.10 L376.52,242.70" stroke="#000" stroke-width="1.3" fill="none" />
<path d="M367.77,233.68 L376.52,242.70" stroke="#000" stroke-width="0.9" fill="none" />
<path d="M370.07,232.39 L379.09,240.68" stroke="#000" stroke-width="0.5" fill="none" />
<path d="M380.00,241.50 C381.17,242.17 384.75,243.82 387.00,245.50 C389.25,247.18 391.50,249.08 393.50,251.60 C395.50,254.12 397.42,257.87 399.00,260.60 C400.58,263.33 401.83,265.60 403.00,268.00 C404.17,270.40 405.08,272.75 406.00,275.00 C406.92,277.25 408.08,280.42 408.50,281.50" stroke="#000" stroke-width="0.8" fill="none" />
<path d="M366.52,226.43 L364.27,226.08 L362.08,225.92 L359.96,225.97 L357.93,226.23 L355.99,226.69 L354.16,227.35 L352.44,228.21 L350.83,229.26 L349.36,230.50 L348.02,231.92 L346.82,233.52 L345.77,235.29 L344.88,237.21 L344.14,239.28 L343.57,241.50 L343.15,243.83 L342.91,246.29 L342.83,248.85 L342.92,251.50 L343.18,254.24 L343.60,257.03 L344.19,259.88 L344.93,262.77 L345.84,265.68 L346.90,268.59 L348.11,271.51 L349.45,274.40 L350.94,277.26 L352.55,280.07 L354.28,282.82 L356.12,285.49 L358.07,288.08 L360.10,290.56 L362.22,292.93 L364.42,295.18 L366.67,297.28 L368.97,299.25 L371.32,301.05 L373.69,302.69 L376.08,304.16 L378.47,305.45 L380.85,306.54 L383.21,307.45 L385.55,308.16 L387.84,308.67 L390.07,308.98" stroke="#000" stroke-width="0.9" fill="none"/>
<path d="M348.31,235.73 L347.31,237.52 L346.46,239.47 L345.78,241.57 L345.26,243.82 L344.93,246.19 L344.76,248.68 L344.77,251.27 L344.96,253.95 L345.32,256.71 L345.85,259.52 L346.55,262.38 L347.41,265.26 L348.44,268.16" stroke="#000" stroke-width="1.0" fill="none"/>
<path d="M352.17,276.31 L353.76,279.10 L355.46,281.83 L357.28,284.48 L359.21,287.04 L361.24,289.49 L363.35,291.82 L365.53,294.03 L367.78,296.08 L370.07,297.99" stroke="#000" stroke-width="1.0" fill="none"/>
<path d="M376.76,302.46 L379.19,303.71 L381.60,304.75 L383.99,305.58 L386.34,306.19 L388.64,306.58 L390.87,306.74" stroke="#000" stroke-width="1.0" fill="none"/>
<path d="M383.94,241.58 L381.94,240.09 L379.93,238.75 L377.91,237.55 L375.88,236.50 L373.87,235.62 L371.87,234.90 L369.90,234.34 L367.97,233.96 L366.09,233.75 L364.27,233.71 L362.51,233.85 L360.83,234.15 L359.23,234.63 L357.73,235.28 L356.32,236.09 L355.02,237.06 L353.82,238.20 L352.75,239.48 L351.80,240.90 L350.98,242.47 L350.29,244.17 L349.73,245.98 L349.31,247.91 L349.03,249.95 L348.90,252.07 L348.90,254.28 L349.05,256.57 L349.34,258.91 L349.76,261.30 L350.33,263.73 L351.03,266.19 L351.86,268.66 L352.82,271.13 L353.90,273.59 L355.10,276.03 L356.41,278.44 L357.82,280.80 L359.34,283.10 L360.94,285.33 L362.63,287.48 L364.39,289.54 L366.21,291.50 L368.10,293.35 L370.03,295.08 L372.00,296.68 L374.00,298.14 L376.01,299.47 L378.04,300.64 L380.06,301.66 L382.08,302.52 L384.07,303.21 L386.03,303.73 L387.95,304.09 L389.82,304.27 L391.63,304.28 L393.38,304.11 L395.05,303.78 L396.63,303.27 L398.12,302.60 L399.51,301.76 L400.79,300.75 L401.97,299.60 L403.02,298.29 L403.95,296.84 L404.75,295.25 L405.42,293.53" stroke="#000" stroke-width="1.5" fill="none"/>
<path d="M389.75,312.00 L396.00,309.00 L399.75,304.50 L401.60,293.25 L402.25,287.00 L400.00,280.00 L397.25,274.50 L394.75,269.50 L391.00,262.00 L386.00,254.00 L380.00,247.50 L373.00,242.50 L366.00,240.50" stroke="#000" stroke-width="1.2" fill="none" />
<path d="M371.50,243.00 L374.40,244.50 L380.90,253.70 L389.20,264.70 L394.00,272.10 L397.50,278.00" stroke="#000" stroke-width="2.4" fill="none" />
<path d="M402.25,287.00 L412.00,283.30" stroke="#000" stroke-width="1.0" fill="none" />
<path d="M403.20,287.60 L402.60,305.50" stroke="#333" stroke-width="0.5" fill="none" />
<path d="M404.90,287.10 L404.50,303.10" stroke="#333" stroke-width="0.5" fill="none" />
<path d="M406.60,286.60 L406.40,300.70" stroke="#333" stroke-width="0.5" fill="none" />
<path d="M408.30,286.10 L408.30,298.30" stroke="#333" stroke-width="0.5" fill="none" />
<path d="M410.00,285.60 L410.20,295.90" stroke="#333" stroke-width="0.5" fill="none" />
<ellipse cx="376.30" cy="269.40" rx="16.76" ry="28.40" transform="rotate(-33 376.30 269.40)" stroke="#000" stroke-width="1.0" fill="none" />
<ellipse cx="381.25" cy="265.00" rx="10.58" ry="19.60" transform="rotate(-33 381.25 265.00)" stroke="#000" stroke-width="1.0" fill="none" />
<rect x="346.00" y="250.75" width="6.0" height="5.5" transform="rotate(-33 349.00 253.50)" fill="#fff" stroke="#000" stroke-width="1.25"/>
<rect x="355.30" y="276.95" width="6.0" height="5.5" transform="rotate(-33 358.30 279.70)" fill="#fff" stroke="#000" stroke-width="1.25"/>
<rect x="374.80" y="295.45" width="6.0" height="5.5" transform="rotate(-33 377.80 298.20)" fill="#fff" stroke="#000" stroke-width="1.25"/>
<rect x="390.70" y="298.25" width="6.0" height="5.5" transform="rotate(-33 393.70 301.00)" fill="#fff" stroke="#000" stroke-width="1.25"/>
<rect x="350.90" y="236.25" width="6.0" height="5.5" transform="rotate(-33 353.90 239.00)" fill="#fff" stroke="#000" stroke-width="1.25"/>
<rect x="365.30" y="288.25" width="3.0" height="4.5" transform="rotate(-33 366.80 290.50)" fill="#fff" stroke="#000" stroke-width="1.25"/>
<rect x="384.50" y="301.75" width="3.0" height="4.5" transform="rotate(-33 386.00 304.00)" fill="#fff" stroke="#000" stroke-width="1.25"/>
</g>
<g id="rear">
<path d="M609.71,89.18 L608.35,90.23 L607.17,91.52 L606.17,93.02 L605.37,94.72 L604.77,96.60 L604.39,98.65 L604.22,100.83 L604.27,103.13 L604.53,105.52 L605.01,107.97 L605.70,110.46 L606.59,112.96 L607.67,115.44 L608.93,117.87 L610.36,120.24 L611.94,122.50 L613.65,124.64 L615.48,126.64 L617.40,128.47 L619.39,130.11 L621.43,131.55 L623.51,132.76 L625.59,133.74 L627.65,134.47 L629.68,134.95 L631.64,135.17 L633.52,135.13 L635.30,134.83 L636.95,134.27 L638.47,133.46 L646.60,126.51 L647.88,125.52 L649.00,124.30 L649.95,122.88 L650.71,121.27 L651.27,119.48 L651.64,117.55 L651.80,115.48 L651.75,113.30 L651.50,111.04 L651.04,108.72 L650.39,106.36 L649.55,104.00 L648.53,101.65 L647.33,99.34 L645.98,97.11 L644.48,94.96 L642.86,92.93 L641.13,91.04 L639.32,89.31 L637.43,87.75 L635.49,86.39 L633.53,85.24 L631.56,84.32 L629.60,83.62 L627.69,83.17 L625.83,82.96 L624.05,83.00 L622.36,83.28 L620.80,83.81 L619.36,84.58 Z" stroke="#000" stroke-width="0.95" fill="#fff" />
<path d="M642.46,66.72 L641.05,67.81 L639.83,69.15 L638.79,70.70 L637.96,72.47 L637.34,74.42 L636.94,76.55 L636.76,78.81 L636.81,81.20 L637.09,83.68 L637.58,86.22 L638.30,88.80 L639.22,91.40 L640.35,93.97 L641.66,96.50 L643.14,98.95 L644.77,101.30 L646.55,103.53 L648.45,105.60 L650.44,107.50 L652.51,109.20 L654.63,110.69 L656.78,111.95 L658.94,112.97 L661.08,113.73 L663.18,114.23 L665.22,114.46 L667.17,114.41 L669.02,114.10 L670.74,113.52 L672.31,112.68 L681.53,104.30 L682.84,103.29 L683.98,102.05 L684.94,100.61 L685.71,98.97 L686.28,97.16 L686.65,95.19 L686.82,93.09 L686.77,90.88 L686.52,88.58 L686.05,86.22 L685.39,83.83 L684.54,81.43 L683.49,79.04 L682.28,76.70 L680.91,74.42 L679.39,72.24 L677.74,70.18 L675.99,68.26 L674.14,66.50 L672.22,64.92 L670.25,63.54 L668.26,62.37 L666.26,61.43 L664.27,60.72 L662.32,60.26 L660.43,60.05 L658.62,60.09 L656.91,60.38 L655.32,60.92 L653.87,61.70 Z" stroke="#000" stroke-width="0.95" fill="#fff" />
<path d="M663.18,114.23 L664.55,114.41 L665.88,114.47 L667.17,114.41 L668.42,114.23 L669.61,113.94 L670.74,113.52 L671.80,112.99 L672.80,112.34 L673.71,111.59 L674.55,110.72 L675.31,109.76 L675.98,108.69 L676.56,107.54 L677.04,106.30 L677.43,104.97 L677.72,103.58 L677.92,102.11 L678.01,100.59 L678.00,99.01 L677.89,97.38 L677.68,95.72 L677.37,94.03 L676.97,92.32 L676.47,90.59 L675.88,88.86 L675.19,87.14 L674.42,85.43 L673.57,83.73 L672.64,82.07 L671.63,80.45 L670.56,78.87 L669.42,77.34 L668.22,75.87 L666.97,74.47 L665.67,73.15 L664.33,71.90 L662.96,70.74 L661.56,69.68 L660.14,68.71 L658.71,67.84 L657.27,67.08 L655.83,66.43 L654.40,65.89 L652.98,65.47 L651.58,65.17 L650.22,64.99 L648.89,64.93 L647.59,64.99 L646.35,65.16 L645.16,65.46 L644.03,65.88 L642.97,66.41 L641.97,67.06 L641.05,67.81 L640.21,68.68 L639.46,69.64 L638.79,70.70 L638.21,71.86 L637.73,73.10 L637.34,74.42" stroke="#000" stroke-width="0.95" fill="none"/>
<path d="M634.33,72.00 L632.92,73.10 L631.69,74.43 L630.65,75.99 L629.82,77.75 L629.20,79.71 L628.80,81.83 L628.63,84.10 L628.68,86.48 L628.95,88.96 L629.45,91.51 L630.16,94.09 L631.09,96.68 L632.21,99.25 L633.52,101.78 L635.00,104.23 L636.64,106.59 L638.42,108.81 L640.31,110.88 L642.30,112.78 L644.37,114.48 L646.49,115.97 L648.65,117.23 L650.81,118.25 L652.95,119.01 L655.05,119.51 L657.09,119.74 L659.04,119.70 L660.88,119.38 L662.60,118.80 L664.17,117.96 L670.50,110.99 L671.78,110.00 L672.90,108.78 L673.85,107.36 L674.61,105.75 L675.17,103.96 L675.54,102.03 L675.70,99.96 L675.65,97.78 L675.40,95.52 L674.95,93.20 L674.29,90.84 L673.45,88.48 L672.43,86.13 L671.23,83.82 L669.88,81.58 L668.39,79.44 L666.77,77.41 L665.04,75.52 L663.22,73.79 L661.33,72.23 L659.39,70.87 L657.43,69.72 L655.46,68.80 L653.51,68.10 L651.59,67.65 L649.73,67.44 L647.95,67.48 L646.27,67.76 L644.70,68.29 L643.27,69.06 Z" stroke="#000" stroke-width="0.95" fill="#fff" />
<path d="M655.05,119.51 L656.42,119.69 L657.75,119.75 L659.04,119.70 L660.28,119.52 L661.47,119.22 L662.60,118.80 L663.67,118.27 L664.66,117.62 L665.58,116.87 L666.42,116.01 L667.18,115.04 L667.84,113.98 L668.42,112.82 L668.91,111.58 L669.30,110.26 L669.59,108.86 L669.78,107.39 L669.87,105.87 L669.86,104.29 L669.76,102.67 L669.55,101.00 L669.24,99.31 L668.83,97.60 L668.33,95.88 L667.74,94.15 L667.06,92.42 L666.29,90.71 L665.43,89.02 L664.50,87.36 L663.50,85.73 L662.42,84.15 L661.28,82.62 L660.08,81.15 L658.83,79.75 L657.53,78.43 L656.20,77.18 L654.82,76.02 L653.42,74.96 L652.00,73.99 L650.57,73.12 L649.13,72.36 L647.69,71.71 L646.26,71.18 L644.84,70.76 L643.45,70.46 L642.08,70.27 L640.75,70.21 L639.46,70.27 L638.22,70.45 L637.03,70.74 L635.90,71.16 L634.83,71.69 L633.84,72.34 L632.92,73.10 L632.08,73.96 L631.32,74.92 L630.65,75.99 L630.08,77.14 L629.59,78.38 L629.20,79.71" stroke="#000" stroke-width="0.95" fill="none"/>
<path d="M626.19,77.29 L624.78,78.38 L623.55,79.71 L622.52,81.27 L621.69,83.04 L621.07,84.99 L620.67,87.11 L620.49,89.38 L620.54,91.76 L620.82,94.24 L621.31,96.79 L622.03,99.37 L622.95,101.96 L624.08,104.54 L625.38,107.06 L626.87,109.52 L628.50,111.87 L630.28,114.09 L632.18,116.17 L634.17,118.06 L636.24,119.77 L638.36,121.26 L640.51,122.52 L642.67,123.53 L644.81,124.29 L646.91,124.79 L648.95,125.02 L650.90,124.98 L652.75,124.67 L654.47,124.09 L656.04,123.24 L662.36,116.28 L663.65,115.28 L664.77,114.06 L665.71,112.64 L666.47,111.03 L667.04,109.25 L667.40,107.31 L667.56,105.24 L667.52,103.06 L667.27,100.80 L666.81,98.48 L666.16,96.12 L665.32,93.76 L664.29,91.41 L663.10,89.10 L661.75,86.87 L660.25,84.72 L658.63,82.69 L656.90,80.80 L655.08,79.07 L653.20,77.51 L651.26,76.16 L649.30,75.01 L647.33,74.08 L645.37,73.38 L643.45,72.93 L641.59,72.72 L639.81,72.76 L638.13,73.05 L636.56,73.57 L635.13,74.34 Z" stroke="#000" stroke-width="0.95" fill="#fff" />
<path d="M646.91,124.79 L648.28,124.97 L649.61,125.04 L650.90,124.98 L652.15,124.80 L653.34,124.50 L654.47,124.09 L655.53,123.55 L656.53,122.91 L657.44,122.15 L658.28,121.29 L659.04,120.32 L659.71,119.26 L660.29,118.11 L660.77,116.86 L661.16,115.54 L661.45,114.14 L661.65,112.68 L661.74,111.15 L661.73,109.57 L661.62,107.95 L661.41,106.29 L661.10,104.60 L660.70,102.88 L660.20,101.16 L659.61,99.43 L658.92,97.71 L658.15,95.99 L657.30,94.30 L656.37,92.64 L655.36,91.01 L654.29,89.43 L653.15,87.90 L651.95,86.44 L650.70,85.04 L649.40,83.71 L648.06,82.47 L646.69,81.31 L645.29,80.24 L643.87,79.27 L642.44,78.41 L641.00,77.65 L639.56,77.00 L638.13,76.46 L636.71,76.04 L635.31,75.74 L633.95,75.56 L632.61,75.49 L631.32,75.55 L630.08,75.73 L628.89,76.03 L627.76,76.44 L626.70,76.98 L625.70,77.62 L624.78,78.38 L623.94,79.24 L623.19,80.21 L622.52,81.27 L621.94,82.42 L621.46,83.67 L621.07,84.99" stroke="#000" stroke-width="0.95" fill="none"/>
<path d="M618.06,82.57 L616.65,83.66 L615.42,84.99 L614.38,86.55 L613.55,88.32 L612.93,90.27 L612.53,92.40 L612.36,94.66 L612.41,97.05 L612.68,99.53 L613.18,102.07 L613.89,104.65 L614.82,107.25 L615.94,109.82 L617.25,112.35 L618.73,114.80 L620.37,117.15 L622.15,119.38 L624.04,121.45 L626.03,123.35 L628.10,125.05 L630.22,126.54 L632.38,127.80 L634.54,128.82 L636.68,129.58 L638.78,130.08 L640.82,130.30 L642.77,130.26 L644.61,129.95 L646.33,129.37 L647.90,128.53 L654.23,121.56 L655.51,120.56 L656.63,119.35 L657.58,117.92 L658.34,116.31 L658.90,114.53 L659.27,112.59 L659.43,110.52 L659.38,108.35 L659.13,106.09 L658.68,103.76 L658.02,101.41 L657.18,99.04 L656.16,96.69 L654.96,94.39 L653.61,92.15 L652.12,90.00 L650.50,87.98 L648.77,86.08 L646.95,84.35 L645.06,82.80 L643.12,81.44 L641.16,80.29 L639.19,79.36 L637.24,78.67 L635.32,78.21 L633.46,78.00 L631.68,78.04 L630.00,78.33 L628.43,78.86 L626.99,79.63 Z" stroke="#000" stroke-width="0.95" fill="#fff" />
<path d="M638.78,130.08 L640.15,130.26 L641.48,130.32 L642.77,130.26 L644.01,130.08 L645.20,129.79 L646.33,129.37 L647.40,128.84 L648.39,128.19 L649.31,127.43 L650.15,126.57 L650.91,125.61 L651.57,124.54 L652.15,123.39 L652.64,122.15 L653.03,120.82 L653.32,119.43 L653.51,117.96 L653.60,116.43 L653.59,114.86 L653.49,113.23 L653.28,111.57 L652.97,109.88 L652.56,108.17 L652.06,106.44 L651.47,104.71 L650.79,102.99 L650.02,101.28 L649.16,99.58 L648.23,97.92 L647.23,96.30 L646.15,94.72 L645.01,93.19 L643.81,91.72 L642.56,90.32 L641.26,88.99 L639.92,87.75 L638.55,86.59 L637.15,85.52 L635.73,84.56 L634.30,83.69 L632.86,82.93 L631.42,82.28 L629.99,81.74 L628.57,81.32 L627.18,81.02 L625.81,80.84 L624.48,80.78 L623.19,80.83 L621.95,81.01 L620.76,81.31 L619.63,81.73 L618.56,82.26 L617.57,82.91 L616.65,83.66 L615.81,84.52 L615.05,85.49 L614.38,86.55 L613.81,87.71 L613.32,88.95 L612.93,90.27" stroke="#000" stroke-width="0.95" fill="none"/>
<line x1="630.79" y1="82.86" x2="665.59" y2="61.17" stroke="#000" stroke-width="0.6"/>
<path d="M615.25,86.62 L619.00,88.50 L627.75,93.50 L637.75,107.25 L644.00,121.00 L645.25,131.00 L642.75,139.75 L639.00,144.75 L634.00,148.50 L627.12,143.00 L627.75,136.00 L625.25,127.25 L617.75,114.75 L609.00,101.00 Z" stroke="none" stroke-width="0" fill="#fff" />
<path d="M615.25,86.62 C615.88,86.94 616.92,87.35 619.00,88.50 C621.08,89.65 624.62,90.38 627.75,93.50 C630.88,96.62 635.04,102.67 637.75,107.25 C640.46,111.83 642.75,117.04 644.00,121.00 C645.25,124.96 645.46,127.88 645.25,131.00 C645.04,134.12 643.79,137.46 642.75,139.75 C641.71,142.04 640.46,143.29 639.00,144.75 C637.54,146.21 634.83,147.88 634.00,148.50" stroke="#000" stroke-width="0.95" fill="none" />
<path d="M613.25,87.83 C613.88,88.14 614.92,88.55 617.00,89.70 C619.08,90.85 622.62,91.58 625.75,94.70 C628.88,97.83 633.04,103.87 635.75,108.45 C638.46,113.03 640.75,118.24 642.00,122.20 C643.25,126.16 643.46,129.07 643.25,132.20 C643.04,135.32 641.79,138.66 640.75,140.95 C639.71,143.24 638.46,144.49 637.00,145.95 C635.54,147.41 632.83,149.07 632.00,149.70" stroke="#000" stroke-width="0.6" fill="none" />
<path d="M617.75,97.25 C619.21,98.92 623.79,103.50 626.50,107.25 C629.21,111.00 632.54,117.04 634.00,119.75 C635.46,122.46 635.04,122.88 635.25,123.50" stroke="#000" stroke-width="0.7" fill="none" />
<path d="M620.25,96.00 C621.71,97.67 626.29,102.15 629.00,106.00 C631.71,109.85 635.04,116.21 636.50,119.12 C637.96,122.04 637.54,122.77 637.75,123.50" stroke="#000" stroke-width="0.6" fill="none" />
<path d="M626.50,126.00 L634.62,122.88 L642.75,129.12 L642.75,135.38 L627.75,138.50" stroke="#000" stroke-width="0.95" fill="none" />
<path d="M627.12,133.50 L642.75,129.12" stroke="#000" stroke-width="0.7" fill="none" />
<path d="M626.50,126.00 L627.75,138.50" stroke="#000" stroke-width="0.95" fill="none" />
<path d="M560.50,109.12 L586.12,92.88 L593.00,93.75 L598.00,98.75 L609.25,101.00 L618.00,112.25 L617.75,114.75 L625.25,127.25 L627.75,136.00 L627.12,143.00 L626.25,152.25 L603.75,168.50 L585.00,150.00 L565.00,120.00 Z" stroke="none" stroke-width="0" fill="#fff" />
<path d="M560.50,109.12 L586.12,92.88 L593.00,93.75" stroke="#000" stroke-width="0.95" fill="none" />
<path d="M577.38,111.00 L595.50,99.50" stroke="#000" stroke-width="0.7" fill="none" />
<path d="M609.25,101.00 C610.71,102.88 616.58,109.96 618.00,112.25 C619.42,114.54 616.54,112.25 617.75,114.75 C618.96,117.25 623.58,123.71 625.25,127.25 C626.92,130.79 627.44,133.38 627.75,136.00 C628.06,138.62 627.38,140.29 627.12,143.00 C626.88,145.71 626.40,150.71 626.25,152.25" stroke="#000" stroke-width="0.95" fill="none" />
<path d="M626.25,152.25 L603.75,168.50" stroke="#000" stroke-width="0.95" fill="none" />
<path d="M560.50,109.12 L571.75,102.88 L574.88,104.75 L577.38,114.12 L574.88,115.38" stroke="#000" stroke-width="0.95" fill="#fff" />
<path d="M564.88,110.38 L573.00,106.00 L574.88,115.38" stroke="#000" stroke-width="0.7" fill="none" />
<path d="M592.00,85.00 L593.00,94.00 L604.50,98.75 L617.38,107.25 L618.00,84.38 Z" stroke="none" stroke-width="0" fill="#fff" />
<path d="M592.62,85.62 L593.25,93.75" stroke="#000" stroke-width="0.95" fill="none" />
<path d="M617.75,84.38 L617.38,107.25" stroke="#000" stroke-width="0.95" fill="none" />
<path d="M593.25,90.62 Q603.25,96.88 616.38,93.12" stroke="#000" stroke-width="0.7" fill="none" />
<path d="M593.25,93.75 Q603.25,100.00 614.50,96.88" stroke="#000" stroke-width="0.7" fill="none" />
<path d="M591.75,84.75 C591.92,86.42 591.71,92.42 592.75,94.75 C593.79,97.08 596.29,97.71 598.00,98.75 C599.71,99.79 601.12,100.71 603.00,101.00 C604.88,101.29 606.85,99.46 609.25,100.50 C611.65,101.54 616.02,106.12 617.38,107.25" stroke="#000" stroke-width="0.95" fill="none" />
<path d="M594.50,95.00 C595.29,95.42 597.62,96.88 599.25,97.50 C600.88,98.12 602.38,98.69 604.25,98.75 C606.12,98.81 609.46,98.02 610.50,97.88" stroke="#000" stroke-width="0.6" fill="none" />
<path d="M590.75,83.40 A13.5,5.6 0 0 0 617.75,83.40 L616.55,74.80 A12.3,5.4 0 0 0 591.95,74.80 Z" stroke="#000" stroke-width="0.95" fill="#fff" />
<path d="M590.75,74.00 A13.5,5.6 0 0 0 617.75,74.00 L616.55,65.40 A12.3,5.4 0 0 0 591.95,65.40 Z" stroke="#000" stroke-width="0.95" fill="#fff" />
<path d="M590.75,64.60 A13.5,5.6 0 0 0 617.75,64.60 L616.55,52.50 A12.3,5.4 0 0 0 591.95,52.50 Z" stroke="#000" stroke-width="0.95" fill="#fff" />
<ellipse cx="604.25" cy="51.60" rx="11.70" ry="5.90" stroke="#000" stroke-width="0.95" fill="#fff"/>
<ellipse cx="604.25" cy="51.90" rx="12.40" ry="6.30" stroke="#000" stroke-width="0.6" fill="none"/>
<ellipse cx="603.95" cy="51.30" rx="8.10" ry="4.00" stroke="#000" stroke-width="0.95" fill="none"/>
<path d="M594.75,57.50 L595.25,97.00" stroke="#000" stroke-width="0.5" fill="none" />
<ellipse cx="562.05" cy="150.80" rx="31.23" ry="51.20" transform="rotate(-33 562.05 150.80)" stroke="#000" stroke-width="0.95" fill="#fff" />
<ellipse cx="560.20" cy="152.00" rx="31.23" ry="51.20" transform="rotate(-33 560.20 152.00)" stroke="none" stroke-width="0" fill="#fff" />
<path d="M568.94,115.80 L566.32,113.89 L563.67,112.16 L561.01,110.63 L558.34,109.30 L555.68,108.17 L553.04,107.26 L550.43,106.57 L547.88,106.10 L545.38,105.85 L542.95,105.83 L540.61,106.03 L538.37,106.46 L536.23,107.11 L534.21,107.98 L532.31,109.06 L530.56,110.35 L528.94,111.85 L527.48,113.54 L526.17,115.41 L525.04,117.47 L524.07,119.69 L523.28,122.07 L522.67,124.60 L522.24,127.26 L522.00,130.04 L521.95,132.93 L522.08,135.91 L522.39,138.97 L522.89,142.09 L523.57,145.26 L524.43,148.47 L525.47,151.69 L526.67,154.91 L528.04,158.12 L529.56,161.30 L531.24,164.43 L533.05,167.50 L535.00,170.50 L537.06,173.41 L539.25,176.21 L541.53,178.89 L543.91,181.45 L546.36,183.86 L548.88,186.11 L551.46,188.20 L554.08,190.11 L556.73,191.84 L559.39,193.37 L562.06,194.70 L564.72,195.83 L567.36,196.74 L569.97,197.43 L572.52,197.90 L575.02,198.15 L577.45,198.17 L579.79,197.97 L582.03,197.54 L584.17,196.89 L586.19,196.02 L588.09,194.94 L589.84,193.65 L591.46,192.15 L592.92,190.46 L594.23,188.59 L595.36,186.53 L596.33,184.31 L597.12,181.93 L597.73,179.40 L598.16,176.74 L598.40,173.96" stroke="#000" stroke-width="0.95" fill="none"/>
<path d="M598.40,173.96 L598.45,171.07 L598.32,168.09 L598.01,165.03 L597.51,161.91 L596.83,158.74 L595.97,155.53 L594.93,152.31 L593.73,149.09 L592.36,145.88 L590.84,142.70 L589.16,139.57 L587.35,136.50 L585.40,133.50 L583.34,130.59 L581.15,127.79 L578.87,125.11 L576.49,122.55 L574.04,120.14 L571.52,117.89 L568.94,115.80" stroke="#000" stroke-width="0.6" fill="none"/>
<path d="M564.60,191.98 L567.01,192.82 L569.40,193.45 L571.74,193.88 L574.03,194.11 L576.25,194.13 L578.39,193.94 L580.45,193.55 L582.41,192.96 L584.26,192.16 L586.00,191.17 L587.61,189.99 L589.09,188.62 L590.43,187.07 L591.62,185.35 L592.66,183.47 L593.55,181.43 L594.27,179.25 L594.83,176.94 L595.22,174.50 L595.44,171.95 L595.49,169.31 L595.37,166.58 L595.08,163.77 L594.63,160.91 L594.00,158.01 L593.21,155.07 L592.27,152.12 L591.16,149.17 L589.91,146.23 L588.52,143.32 L586.98,140.45 L585.32,137.64 L583.54,134.89 L581.64,132.23 L579.65,129.66 L577.55,127.20 L575.38,124.86 L573.13,122.65 L570.82,120.59 L568.46,118.68 L566.06,116.92 L563.63,115.34 L561.19,113.94 L558.74,112.72 L556.31,111.69 L553.89,110.86 L551.50,110.22 L549.16,109.79 L546.88,109.57 L544.65,109.55" stroke="#000" stroke-width="0.6" fill="none"/>
<path d="M564.50,191.04 L566.86,191.86 L569.19,192.47 L571.48,192.90 L573.71,193.12 L575.88,193.14 L577.97,192.95 L579.98,192.57 L581.89,191.99 L583.70,191.22 L585.40,190.25 L586.97,189.09 L588.41,187.76 L589.72,186.24 L590.89,184.57 L591.91,182.73 L592.77,180.74 L593.48,178.61 L594.02,176.35 L594.40,173.97 L594.62,171.48 L594.67,168.90 L594.56,166.23 L594.27,163.49 L593.83,160.70 L593.22,157.86 L592.45,155.00 L591.52,152.12 L590.44,149.23 L589.22,146.36 L587.86,143.52 L586.36,140.72 L584.74,137.97 L583.00,135.29 L581.15,132.69 L579.19,130.18 L577.15,127.78 L575.03,125.50 L572.83,123.34 L570.58,121.32 L568.27,119.45 L565.93,117.74 L563.56,116.20 L561.17,114.83 L558.78,113.64 L556.40,112.63 L554.04,111.82 L551.71,111.20 L549.43,110.78 L547.19,110.56 L545.03,110.54" stroke="#000" stroke-width="0.6" fill="none"/>
<ellipse cx="561.04" cy="151.46" rx="23.42" ry="38.40" transform="rotate(-33 561.04 151.46)" stroke="#000" stroke-width="0.9" fill="none" />
<path d="M579.81,139.27 L578.38,137.16 L576.87,135.13 L575.27,133.18 L573.61,131.32 L571.89,129.55 L570.12,127.89 L568.30,126.35 L566.45,124.93 L564.57,123.65 L562.68,122.49 L560.78,121.48 L558.88,120.62 L557.00,119.91 L555.13,119.35 L553.30,118.95 L551.50,118.72 L549.76,118.64 L548.07,118.72 L546.44,118.96 L544.89,119.37 L543.42,119.93 L542.04,120.64 L540.76,121.51 L539.57,122.52 L538.49,123.68 L537.53,124.97 L536.68,126.39 L535.95,127.94 L535.35,129.60 L534.87,131.36 L534.53,133.23 L534.32,135.18 L534.24,137.22 L534.30,139.32 L534.48,141.48 L534.81,143.69 L535.26,145.94 L535.84,148.22 L536.54,150.51 L537.37,152.80 L538.32,155.09 L539.37,157.36 L540.54,159.59 L541.81,161.79 L543.18,163.94 L544.63,166.02 L546.17,168.03 L547.78,169.96 L549.46,171.79 L551.20,173.52 L552.98,175.15 L554.81,176.66 L556.67,178.04 L558.55,179.29 L560.45,180.40 L562.35,181.37 L564.25,182.18 L566.13,182.85 L567.98,183.36 L569.81,183.72 L571.59,183.91 L573.32,183.94 L574.99,183.81 L576.59,183.52 L578.12,183.07 L579.57,182.47 L580.92,181.71 L582.18,180.80 L583.34,179.74 L584.38,178.55 L585.31,177.21 L586.13,175.76 L586.82,174.18 L587.38,172.49 L587.82,170.69 L588.12,168.80 L588.30,166.82" stroke="#000" stroke-width="0.6" fill="none"/>
<path d="M521.79,134.87 L529.77,137.69 L530.19,141.74 L522.31,139.87" stroke="#000" stroke-width="0.9" fill="#777" />
<line x1="529.84" y1="138.37" x2="532.44" y2="136.77" stroke="#333" stroke-width="0.5"/>
<line x1="529.91" y1="139.04" x2="532.51" y2="137.44" stroke="#333" stroke-width="0.5"/>
<line x1="529.98" y1="139.72" x2="532.58" y2="138.12" stroke="#333" stroke-width="0.5"/>
<line x1="530.05" y1="140.39" x2="532.65" y2="138.79" stroke="#333" stroke-width="0.5"/>
<line x1="530.12" y1="141.07" x2="532.72" y2="139.47" stroke="#333" stroke-width="0.5"/>
<path d="M598.04,179.07 L591.51,173.48 L591.96,169.88 L598.59,174.62" stroke="#000" stroke-width="0.9" fill="#777" />
<line x1="591.59" y1="172.88" x2="594.19" y2="171.28" stroke="#333" stroke-width="0.5"/>
<line x1="591.66" y1="172.28" x2="594.26" y2="170.68" stroke="#333" stroke-width="0.5"/>
<line x1="591.73" y1="171.68" x2="594.33" y2="170.08" stroke="#333" stroke-width="0.5"/>
<line x1="591.81" y1="171.08" x2="594.41" y2="169.48" stroke="#333" stroke-width="0.5"/>
<line x1="591.88" y1="170.48" x2="594.48" y2="168.88" stroke="#333" stroke-width="0.5"/>
<rect x="536.30" y="113.14" width="8" height="3.2" transform="rotate(-8 540.30 114.74)" fill="#fff" stroke="#000" stroke-width="0.7"/>
<rect x="569.95" y="191.62" width="8" height="3.0" transform="rotate(-8 573.95 193.12)" fill="#fff" stroke="#000" stroke-width="0.7"/>
<g transform="rotate(65 541.25 174.75)">
<rect x="537.98" y="173.55" width="7" height="2.6" transform="rotate(-8 541.48 174.85)" fill="#fff" stroke="#000" stroke-width="0.7"/>
</g>
<clipPath id="cbore"><ellipse cx="561.7" cy="153.4" rx="17.93" ry="29.4" transform="rotate(-33 561.7 153.4)"/></clipPath>
<ellipse cx="561.70" cy="153.40" rx="18.91" ry="31.00" transform="rotate(-33 561.70 153.40)" stroke="#000" stroke-width="0.7" fill="none" />
<g clip-path="url(#cbore)">
<ellipse cx="584.76" cy="138.42" rx="16.71" ry="27.40" transform="rotate(-33 584.76 138.42)" stroke="#333" stroke-width="0.7" fill="none" />
<ellipse cx="586.44" cy="137.33" rx="16.71" ry="27.40" transform="rotate(-33 586.44 137.33)" stroke="#333" stroke-width="0.7" fill="none" />
<ellipse cx="588.12" cy="136.24" rx="16.71" ry="27.40" transform="rotate(-33 588.12 136.24)" stroke="#333" stroke-width="0.7" fill="none" />
<ellipse cx="589.80" cy="135.15" rx="16.71" ry="27.40" transform="rotate(-33 589.80 135.15)" stroke="#333" stroke-width="0.7" fill="none" />
<ellipse cx="591.47" cy="134.07" rx="16.71" ry="27.40" transform="rotate(-33 591.47 134.07)" stroke="#333" stroke-width="0.7" fill="none" />
<ellipse cx="593.15" cy="132.98" rx="16.71" ry="27.40" transform="rotate(-33 593.15 132.98)" stroke="#333" stroke-width="0.7" fill="none" />
<ellipse cx="594.83" cy="131.89" rx="16.71" ry="27.40" transform="rotate(-33 594.83 131.89)" stroke="#333" stroke-width="0.7" fill="none" />
<ellipse cx="596.50" cy="130.80" rx="16.71" ry="27.40" transform="rotate(-33 596.50 130.80)" stroke="#333" stroke-width="0.7" fill="none" />
<ellipse cx="598.18" cy="129.71" rx="16.71" ry="27.40" transform="rotate(-33 598.18 129.71)" stroke="#333" stroke-width="0.7" fill="none" />
<ellipse cx="564.22" cy="151.77" rx="17.75" ry="29.10" transform="rotate(-33 564.22 151.77)" stroke="#1a1a1a" stroke-width="1.25" fill="none" />
<ellipse cx="565.31" cy="151.06" rx="17.75" ry="29.10" transform="rotate(-33 565.31 151.06)" stroke="#444" stroke-width="0.5" fill="none" />
<ellipse cx="566.23" cy="150.46" rx="17.63" ry="28.90" transform="rotate(-33 566.23 150.46)" stroke="#444" stroke-width="0.5" fill="none" />
<path d="M558.52,125.42 L557.08,125.21 L555.69,125.13 L554.33,125.19 L553.03,125.37 L551.78,125.67 L550.60,126.10 L549.48,126.66 L548.44,127.33 L547.48,128.12 L546.61,129.03 L545.82,130.04 L545.13,131.16 L544.53,132.38 L544.03,133.69 L543.63,135.08 L543.34,136.56 L543.15,138.11 L543.06,139.72 L543.08,141.39 L543.21,143.10 L543.44,144.86 L543.78,146.65 L544.22,148.46 L544.76,150.29 L545.39,152.12 L546.12,153.95 L546.95,155.77 L547.85,157.56 L548.85,159.33 L549.92,161.05 L551.06,162.73 L552.27,164.36 L553.54,165.92 L554.86,167.41 L556.23,168.82 L557.65,170.14 L559.10,171.38 L560.58,172.52 L562.07,173.55 L563.59,174.48 L565.10,175.29 L566.62,175.99 L568.13,176.57 L569.62,177.02 L571.09,177.35" stroke="#555" stroke-width="1.0" fill="none" stroke-dasharray="0.4 0.5" stroke-linecap="butt"/>
<ellipse cx="567.99" cy="149.32" rx="17.57" ry="28.80" transform="rotate(-33 567.99 149.32)" stroke="#1a1a1a" stroke-width="1.25" fill="none" />
<ellipse cx="569.08" cy="148.61" rx="17.57" ry="28.80" transform="rotate(-33 569.08 148.61)" stroke="#444" stroke-width="0.5" fill="none" />
<ellipse cx="570.00" cy="148.01" rx="17.45" ry="28.60" transform="rotate(-33 570.00 148.01)" stroke="#444" stroke-width="0.5" fill="none" />
<path d="M562.36,123.23 L560.94,123.03 L559.55,122.95 L558.21,123.01 L556.92,123.18 L555.69,123.49 L554.52,123.91 L553.42,124.46 L552.39,125.13 L551.44,125.91 L550.57,126.81 L549.79,127.81 L549.11,128.92 L548.51,130.12 L548.02,131.42 L547.63,132.80 L547.33,134.26 L547.15,135.79 L547.06,137.39 L547.08,139.04 L547.21,140.74 L547.44,142.48 L547.77,144.25 L548.20,146.04 L548.74,147.85 L549.37,149.66 L550.09,151.47 L550.90,153.27 L551.80,155.05 L552.79,156.79 L553.84,158.50 L554.97,160.16 L556.17,161.77 L557.43,163.31 L558.74,164.79 L560.10,166.19 L561.50,167.50 L562.93,168.72 L564.39,169.85 L565.88,170.87 L567.37,171.79 L568.87,172.60 L570.37,173.29 L571.87,173.86 L573.34,174.31 L574.79,174.64" stroke="#555" stroke-width="1.0" fill="none" stroke-dasharray="0.4 0.5" stroke-linecap="butt"/>
<ellipse cx="571.76" cy="146.86" rx="17.38" ry="28.50" transform="rotate(-33 571.76 146.86)" stroke="#1a1a1a" stroke-width="1.25" fill="none" />
<ellipse cx="572.85" cy="146.16" rx="17.38" ry="28.50" transform="rotate(-33 572.85 146.16)" stroke="#444" stroke-width="0.5" fill="none" />
<ellipse cx="573.78" cy="145.56" rx="17.26" ry="28.30" transform="rotate(-33 573.78 145.56)" stroke="#444" stroke-width="0.5" fill="none" />
<path d="M566.20,121.05 L564.79,120.85 L563.42,120.77 L562.09,120.82 L560.82,121.00 L559.60,121.30 L558.44,121.72 L557.35,122.27 L556.33,122.93 L555.39,123.70 L554.53,124.59 L553.76,125.58 L553.08,126.68 L552.50,127.87 L552.01,129.15 L551.62,130.52 L551.33,131.96 L551.14,133.48 L551.06,135.06 L551.08,136.69 L551.20,138.37 L551.43,140.09 L551.76,141.85 L552.19,143.62 L552.72,145.41 L553.34,147.21 L554.06,149.00 L554.86,150.78 L555.75,152.53 L556.72,154.26 L557.77,155.95 L558.89,157.60 L560.07,159.19 L561.32,160.71 L562.61,162.17 L563.96,163.56 L565.34,164.85 L566.76,166.06 L568.21,167.18 L569.68,168.19 L571.16,169.10 L572.65,169.90 L574.13,170.58 L575.61,171.15 L577.07,171.59 L578.50,171.92" stroke="#555" stroke-width="1.0" fill="none" stroke-dasharray="0.4 0.5" stroke-linecap="butt"/>
<ellipse cx="575.54" cy="144.41" rx="17.20" ry="28.20" transform="rotate(-33 575.54 144.41)" stroke="#1a1a1a" stroke-width="1.25" fill="none" />
<ellipse cx="576.63" cy="143.71" rx="17.20" ry="28.20" transform="rotate(-33 576.63 143.71)" stroke="#444" stroke-width="0.5" fill="none" />
<ellipse cx="577.55" cy="143.11" rx="17.08" ry="28.00" transform="rotate(-33 577.55 143.11)" stroke="#444" stroke-width="0.5" fill="none" />
<path d="M570.04,118.87 L568.65,118.67 L567.29,118.59 L565.98,118.64 L564.71,118.82 L563.50,119.11 L562.36,119.53 L561.28,120.07 L560.27,120.72 L559.34,121.49 L558.49,122.37 L557.73,123.35 L557.06,124.43 L556.48,125.61 L556.00,126.88 L555.61,128.23 L555.32,129.66 L555.14,131.16 L555.06,132.73 L555.08,134.34 L555.20,136.01 L555.43,137.71 L555.75,139.44 L556.18,141.20 L556.70,142.97 L557.32,144.75 L558.02,146.52 L558.82,148.28 L559.70,150.02 L560.66,151.73 L561.70,153.40 L562.80,155.03 L563.98,156.60 L565.21,158.11 L566.49,159.56 L567.82,160.93 L569.19,162.21 L570.60,163.41 L572.03,164.51 L573.48,165.51 L574.95,166.41 L576.42,167.20 L577.89,167.88 L579.35,168.44 L580.79,168.88 L582.21,169.20" stroke="#555" stroke-width="1.0" fill="none" stroke-dasharray="0.4 0.5" stroke-linecap="butt"/>
<ellipse cx="579.31" cy="141.96" rx="17.02" ry="27.90" transform="rotate(-33 579.31 141.96)" stroke="#1a1a1a" stroke-width="1.25" fill="none" />
<ellipse cx="580.40" cy="141.25" rx="17.02" ry="27.90" transform="rotate(-33 580.40 141.25)" stroke="#444" stroke-width="0.5" fill="none" />
<ellipse cx="581.32" cy="140.66" rx="16.90" ry="27.70" transform="rotate(-33 581.32 140.66)" stroke="#444" stroke-width="0.5" fill="none" />
<path d="M573.88,116.68 L572.50,116.49 L571.16,116.41 L569.86,116.46 L568.61,116.64 L567.41,116.93 L566.28,117.34 L565.21,117.87 L564.21,118.52 L563.29,119.28 L562.46,120.15 L561.70,121.12 L561.04,122.19 L560.46,123.36 L559.98,124.61 L559.60,125.95 L559.32,127.37 L559.14,128.85 L559.06,130.39 L559.08,131.99 L559.20,133.64 L559.42,135.33 L559.74,137.04 L560.16,138.78 L560.68,140.53 L561.29,142.29 L561.99,144.04 L562.78,145.78 L563.65,147.50 L564.60,149.20 L565.63,150.85 L566.72,152.46 L567.88,154.02 L569.10,155.51 L570.37,156.94 L571.68,158.29 L573.04,159.57 L574.43,160.75 L575.85,161.84 L577.28,162.83 L578.73,163.72 L580.19,164.50 L581.64,165.17 L583.09,165.73 L584.52,166.16 L585.92,166.48" stroke="#555" stroke-width="1.0" fill="none" stroke-dasharray="0.4 0.5" stroke-linecap="butt"/>
<ellipse cx="583.09" cy="139.51" rx="16.84" ry="27.60" transform="rotate(-33 583.09 139.51)" stroke="#1a1a1a" stroke-width="1.25" fill="none" />
<ellipse cx="584.18" cy="138.80" rx="16.84" ry="27.60" transform="rotate(-33 584.18 138.80)" stroke="#444" stroke-width="0.5" fill="none" />
<ellipse cx="585.10" cy="138.20" rx="16.71" ry="27.40" transform="rotate(-33 585.10 138.20)" stroke="#444" stroke-width="0.5" fill="none" />
<path d="M577.71,114.50 L576.35,114.31 L575.03,114.23 L573.74,114.28 L572.50,114.45 L571.32,114.74 L570.20,115.15 L569.14,115.68 L568.16,116.32 L567.25,117.07 L566.42,117.93 L565.67,118.89 L565.01,119.95 L564.45,121.10 L563.97,122.35 L563.60,123.67 L563.32,125.07 L563.13,126.54 L563.05,128.06 L563.07,129.65 L563.19,131.28 L563.41,132.94 L563.73,134.64 L564.15,136.36 L564.66,138.09 L565.26,139.83 L565.96,141.56 L566.74,143.29 L567.60,144.99 L568.54,146.66 L569.55,148.30 L570.64,149.89 L571.78,151.43 L572.99,152.91 L574.24,154.33 L575.55,155.66 L576.89,156.92 L578.26,158.09 L579.66,159.17 L581.09,160.15 L582.52,161.03 L583.96,161.81 L585.40,162.47 L586.83,163.02 L588.24,163.45 L589.63,163.76" stroke="#555" stroke-width="1.0" fill="none" stroke-dasharray="0.4 0.5" stroke-linecap="butt"/>
</g>
<ellipse cx="561.70" cy="153.40" rx="17.93" ry="29.40" transform="rotate(-33 561.70 153.40)" stroke="#000" stroke-width="0.9" fill="none" />
</g>
<g id="oring">
<ellipse cx="504.50" cy="189.00" rx="20.91" ry="36.30" transform="rotate(-33 504.50 189.00)" stroke="#333" stroke-width="0.85" fill="none" />
<ellipse cx="504.50" cy="189.00" rx="18.20" ry="31.60" transform="rotate(-33 504.50 189.00)" stroke="#444" stroke-width="0.75" fill="none" />
<ellipse cx="504.50" cy="189.00" rx="17.28" ry="30.00" transform="rotate(-33 504.50 189.00)" stroke="#444" stroke-width="0.75" fill="none" />
<path d="M521.27,214.83 L522.27,214.09 L523.18,213.23 L524.00,212.26 L524.73,211.17 L525.35,209.97 L525.88,208.67 L526.30,207.27 L526.61,205.79 L526.82,204.22 L526.91,202.58 L526.90,200.87 L526.78,199.10 L526.55,197.29 L526.22,195.43 L525.77,193.55 L525.23,191.64 L524.58,189.72 L523.83,187.79 L522.99,185.87 L522.07,183.97 L521.05,182.09 L519.96,180.25 L518.78,178.44 L517.54,176.69 L516.24,175.00 L514.88,173.38 L513.47,171.83 L512.01,170.36 L510.52,168.99 L509.00,167.72 L507.45,166.55 L505.90,165.48 L504.33,164.54 L502.77,163.71 L501.21,163.00 L499.67,162.42 L498.16,161.97 L496.67,161.66 L495.23,161.47 L493.83,161.42 L492.48,161.51 L491.19,161.72 L489.96,162.08 L488.80,162.56 L487.73,163.17 L486.73,163.91 L485.82,164.77 L485.00,165.74 L484.27,166.83 L483.65,168.03 L483.12,169.33 L482.70,170.73 L482.39,172.21 L482.18,173.78 L482.09,175.42 L482.10,177.13 L482.22,178.90 L482.45,180.71 L482.78,182.57 L483.23,184.45 L483.77,186.36 L484.42,188.28 L485.17,190.21 L486.01,192.13 L486.93,194.03 L487.95,195.91 L489.04,197.75 L490.22,199.56 L491.46,201.31 L492.76,203.00 L494.12,204.62 L495.53,206.17 L496.99,207.64 L498.48,209.01 L500.00,210.28 L501.55,211.45 L503.10,212.52 L504.67,213.46 L506.23,214.29 L507.79,215.00 L509.33,215.58 L510.84,216.03 L512.33,216.34 L513.77,216.53 L515.17,216.58 L516.52,216.49 L517.81,216.28 L519.04,215.92 L520.20,215.44 L521.27,214.83" stroke="#666" stroke-width="1.3" fill="none" stroke-dasharray="0.5 0.6" stroke-linecap="butt"/>
</g>
<g id="shell">
<path d="M423.68,187.35 C424.53,186.21 425.95,182.36 428.80,180.51 C431.65,178.66 436.78,177.09 440.77,176.24 C444.76,175.38 448.75,174.67 452.74,175.38 C456.72,176.10 460.43,176.81 464.70,180.51 C468.97,184.22 474.67,191.62 478.38,197.61 C482.08,203.59 485.07,211.27 486.92,216.41 C488.77,221.55 489.26,225.17 489.49,228.46 C489.72,231.75 488.86,234.02 488.29,236.15 C487.72,238.29 487.29,239.72 486.07,241.28 C484.84,242.85 482.79,244.42 480.94,245.56 C479.09,246.70 478.23,247.69 474.96,248.12 C471.68,248.55 466.41,249.54 461.28,248.12 C456.15,246.70 448.75,242.99 444.19,239.57 C439.63,236.15 435.78,230.31 433.93,227.61 C432.08,224.90 433.08,224.76 433.08,223.33 C433.08,221.91 433.28,220.91 433.93,219.06 C434.59,217.21 436.58,214.36 437.01,212.22 C437.44,210.09 437.29,208.38 436.50,206.24 C435.70,204.10 433.79,201.13 432.22,199.40 C430.66,197.68 428.46,197.19 427.09,195.90 C425.73,194.60 424.53,192.34 424.02,191.62" stroke="#b4b4b4" stroke-width="0.8" fill="none" />
<path d="M424.02,191.62 L423.68,187.35" stroke="#b4b4b4" stroke-width="0.8" fill="none" />
<path d="M464.70,183.08 C466.70,185.64 473.39,192.91 476.67,198.46 C479.94,204.02 482.71,211.41 484.36,216.41 C486.01,221.41 486.38,225.31 486.58,228.46 C486.78,231.61 486.07,233.30 485.56,235.30 C485.04,237.29 484.70,238.92 483.50,240.43 C482.31,241.94 479.23,243.70 478.38,244.36" stroke="#c0c0c0" stroke-width="0.7" fill="none" />
<ellipse cx="460.40" cy="215.20" rx="8.75" ry="26.50" transform="rotate(-36 460.40 215.20)" stroke="#b4b4b4" stroke-width="0.8" fill="none" />
<ellipse cx="461.00" cy="215.40" rx="7.53" ry="24.30" transform="rotate(-36 461.00 215.40)" stroke="#c0c0c0" stroke-width="0.7" fill="none" />
</g>
</svg>
</body></html>
